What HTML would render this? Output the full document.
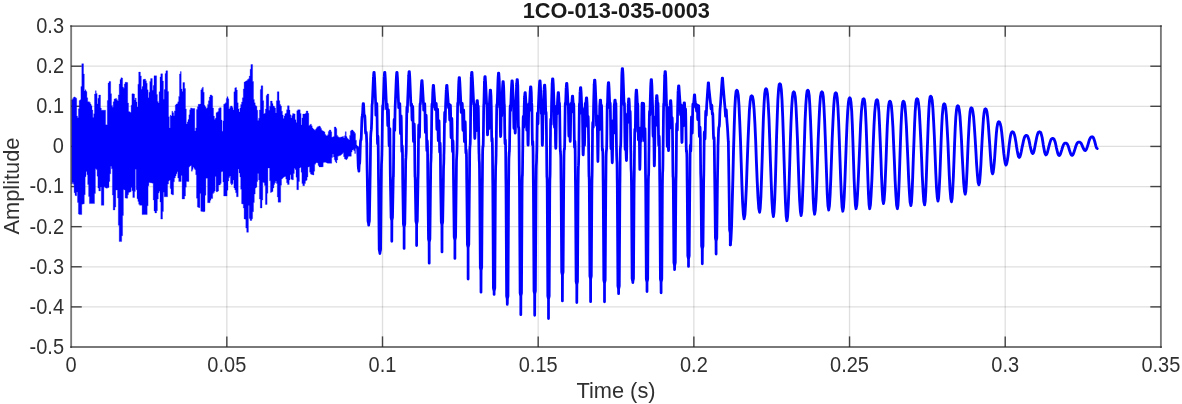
<!DOCTYPE html>
<html><head><meta charset="utf-8"><title>1CO-013-035-0003</title>
<style>
html,body{margin:0;padding:0;background:#fff;}
body{width:1182px;height:404px;overflow:hidden;font-family:"Liberation Sans",sans-serif;}
svg{display:block;will-change:transform;}
text{font-family:"Liberation Sans",sans-serif;fill:#303030;}
.tk{font-size:20px;}
.lb{font-size:21.8px;}
.tt{font-size:21.75px;font-weight:bold;fill:#1a1a1a;}
</style></head><body>
<svg width="1182" height="404" viewBox="0 0 1182 404">
<rect x="0" y="0" width="1182" height="404" fill="#ffffff"/>
<g stroke="#262626" stroke-opacity="0.15" stroke-width="1.3" fill="none">
<line x1="226.83" y1="26.1" x2="226.83" y2="347.0"/>
<line x1="382.51" y1="26.1" x2="382.51" y2="347.0"/>
<line x1="538.19" y1="26.1" x2="538.19" y2="347.0"/>
<line x1="693.86" y1="26.1" x2="693.86" y2="347.0"/>
<line x1="849.54" y1="26.1" x2="849.54" y2="347.0"/>
<line x1="1005.22" y1="26.1" x2="1005.22" y2="347.0"/>
<line x1="71.15" y1="306.89" x2="1160.9" y2="306.89"/>
<line x1="71.15" y1="266.78" x2="1160.9" y2="266.78"/>
<line x1="71.15" y1="226.66" x2="1160.9" y2="226.66"/>
<line x1="71.15" y1="186.55" x2="1160.9" y2="186.55"/>
<line x1="71.15" y1="146.44" x2="1160.9" y2="146.44"/>
<line x1="71.15" y1="106.32" x2="1160.9" y2="106.32"/>
<line x1="71.15" y1="66.21" x2="1160.9" y2="66.21"/>
</g>
<g stroke="#444444" stroke-width="1.4" fill="none">
<line x1="226.83" y1="347.0" x2="226.83" y2="336.4"/>
<line x1="226.83" y1="26.1" x2="226.83" y2="36.7"/>
<line x1="382.51" y1="347.0" x2="382.51" y2="336.4"/>
<line x1="382.51" y1="26.1" x2="382.51" y2="36.7"/>
<line x1="538.19" y1="347.0" x2="538.19" y2="336.4"/>
<line x1="538.19" y1="26.1" x2="538.19" y2="36.7"/>
<line x1="693.86" y1="347.0" x2="693.86" y2="336.4"/>
<line x1="693.86" y1="26.1" x2="693.86" y2="36.7"/>
<line x1="849.54" y1="347.0" x2="849.54" y2="336.4"/>
<line x1="849.54" y1="26.1" x2="849.54" y2="36.7"/>
<line x1="1005.22" y1="347.0" x2="1005.22" y2="336.4"/>
<line x1="1005.22" y1="26.1" x2="1005.22" y2="36.7"/>
<line x1="71.15" y1="306.89" x2="81.75" y2="306.89"/>
<line x1="1160.9" y1="306.89" x2="1150.3000000000002" y2="306.89"/>
<line x1="71.15" y1="266.78" x2="81.75" y2="266.78"/>
<line x1="1160.9" y1="266.78" x2="1150.3000000000002" y2="266.78"/>
<line x1="71.15" y1="226.66" x2="81.75" y2="226.66"/>
<line x1="1160.9" y1="226.66" x2="1150.3000000000002" y2="226.66"/>
<line x1="71.15" y1="186.55" x2="81.75" y2="186.55"/>
<line x1="1160.9" y1="186.55" x2="1150.3000000000002" y2="186.55"/>
<line x1="71.15" y1="146.44" x2="81.75" y2="146.44"/>
<line x1="1160.9" y1="146.44" x2="1150.3000000000002" y2="146.44"/>
<line x1="71.15" y1="106.32" x2="81.75" y2="106.32"/>
<line x1="1160.9" y1="106.32" x2="1150.3000000000002" y2="106.32"/>
<line x1="71.15" y1="66.21" x2="81.75" y2="66.21"/>
<line x1="1160.9" y1="66.21" x2="1150.3000000000002" y2="66.21"/>
</g>
<g fill="none" stroke="#0000ff" stroke-width="2.85" stroke-linejoin="round" stroke-linecap="round">
<path d="M71.6,100.0 L72.4,100.0 L72.4,98.8 L73.3,98.8 L73.3,97.5 L74.1,97.5 L74.1,96.9 L75.0,96.9 L75.0,97.5 L75.8,97.5 L75.8,98.2 L76.7,98.2 L76.7,116.1 L77.5,116.1 L77.5,117.8 L78.4,117.8 L78.4,108.8 L79.2,108.8 L79.2,100.6 L80.1,100.6 L80.1,99.7 L80.9,99.7 L80.9,86.6 L81.8,86.6 L81.8,63.7 L82.6,63.7 L82.6,63.7 L83.5,63.7 L83.5,74.0 L84.3,74.0 L84.3,91.1 L85.2,91.1 L85.2,89.8 L86.0,89.8 L86.0,91.5 L86.9,91.5 L86.9,97.8 L87.7,97.8 L87.7,101.7 L88.6,101.7 L88.6,101.7 L89.4,101.7 L89.4,102.4 L90.3,102.4 L90.3,104.1 L91.1,104.1 L91.1,105.8 L92.0,105.8 L92.0,110.0 L92.8,110.0 L92.8,117.6 L93.7,117.6 L93.7,113.7 L94.5,113.7 L94.5,94.1 L95.4,94.1 L95.4,90.7 L96.2,90.7 L96.2,93.4 L97.1,93.4 L97.1,104.0 L97.9,104.0 L97.9,98.2 L98.8,98.2 L98.8,95.0 L99.6,95.0 L99.6,95.0 L100.5,95.0 L100.5,108.1 L101.3,108.1 L101.3,110.2 L102.2,110.2 L102.2,110.2 L103.0,110.2 L103.0,110.2 L103.9,110.2 L103.9,110.2 L104.7,110.2 L104.7,110.2 L105.6,110.2 L105.6,124.7 L106.4,124.7 L106.4,125.0 L107.3,125.0 L107.3,100.6 L108.1,100.6 L108.1,83.1 L109.0,83.1 L109.0,81.4 L109.8,81.4 L109.8,81.4 L110.7,81.4 L110.7,93.7 L111.5,93.7 L111.5,105.4 L112.4,105.4 L112.4,107.3 L113.2,107.3 L113.2,101.8 L114.1,101.8 L114.1,99.0 L114.9,99.0 L114.9,98.7 L115.8,98.7 L115.8,98.4 L116.6,98.4 L116.6,99.7 L117.5,99.7 L117.5,101.1 L118.3,101.1 L118.3,94.9 L119.2,94.9 L119.2,84.1 L120.0,84.1 L120.0,79.5 L120.9,79.5 L120.9,77.7 L121.7,77.7 L121.7,78.0 L122.6,78.0 L122.6,87.0 L123.4,87.0 L123.4,88.2 L124.3,88.2 L124.3,84.0 L125.1,84.0 L125.1,82.3 L126.0,82.3 L126.0,82.3 L126.8,82.3 L126.8,82.5 L127.7,82.5 L127.7,103.1 L128.5,103.1 L128.5,111.4 L129.4,111.4 L129.4,112.0 L130.2,112.0 L130.2,112.5 L131.1,112.5 L131.1,105.2 L131.9,105.2 L131.9,93.8 L132.8,93.8 L132.8,93.8 L133.6,93.8 L133.6,94.1 L134.5,94.1 L134.5,99.9 L135.3,99.9 L135.3,98.1 L136.2,98.1 L136.2,102.0 L137.0,102.0 L137.0,107.0 L137.9,107.0 L137.9,84.2 L138.7,84.2 L138.7,72.1 L139.6,72.1 L139.6,72.1 L140.4,72.1 L140.4,75.9 L141.3,75.9 L141.3,89.2 L142.1,89.2 L142.1,86.6 L143.0,86.6 L143.0,79.6 L143.8,79.6 L143.8,79.3 L144.7,79.3 L144.7,79.0 L145.5,79.0 L145.5,80.7 L146.4,80.7 L146.4,83.2 L147.2,83.2 L147.2,89.8 L148.1,89.8 L148.1,97.8 L148.9,97.8 L148.9,92.2 L149.8,92.2 L149.8,81.4 L150.6,81.4 L150.6,78.6 L151.5,78.6 L151.5,78.6 L152.3,78.6 L152.3,90.2 L153.2,90.2 L153.2,85.5 L154.0,85.5 L154.0,75.8 L154.9,75.8 L154.9,75.8 L155.7,75.8 L155.7,75.8 L156.6,75.8 L156.6,94.6 L157.4,94.6 L157.4,101.4 L158.3,101.4 L158.3,103.1 L159.1,103.1 L159.1,91.8 L160.0,91.8 L160.0,76.9 L160.8,76.9 L160.8,73.8 L161.7,73.8 L161.7,73.8 L162.5,73.8 L162.5,81.1 L163.4,81.1 L163.4,99.2 L164.2,99.2 L164.2,89.6 L165.1,89.6 L165.1,73.6 L165.9,73.6 L165.9,70.8 L166.8,70.8 L166.8,70.8 L167.6,70.8 L167.6,91.6 L168.5,91.6 L168.5,116.7 L169.3,116.7 L169.3,128.0 L170.2,128.0 L170.2,115.3 L171.0,115.3 L171.0,116.1 L171.9,116.1 L171.9,111.2 L172.7,111.2 L172.7,112.7 L173.6,112.7 L173.6,115.7 L174.4,115.7 L174.4,110.9 L175.3,110.9 L175.3,105.0 L176.1,105.0 L176.1,104.0 L177.0,104.0 L177.0,103.7 L177.8,103.7 L177.8,101.8 L178.7,101.8 L178.7,96.4 L179.5,96.4 L179.5,74.0 L180.4,74.0 L180.4,71.6 L181.2,71.6 L181.2,88.9 L182.1,88.9 L182.1,91.5 L182.9,91.5 L182.9,82.6 L183.8,82.6 L183.8,82.6 L184.6,82.6 L184.6,88.6 L185.5,88.6 L185.5,108.9 L186.3,108.9 L186.3,124.1 L187.2,124.1 L187.2,121.9 L188.0,121.9 L188.0,119.6 L188.9,119.6 L188.9,114.8 L189.7,114.8 L189.7,109.8 L190.6,109.8 L190.6,107.9 L191.4,107.9 L191.4,108.3 L192.3,108.3 L192.3,108.5 L193.1,108.5 L193.1,108.5 L194.0,108.5 L194.0,108.5 L194.8,108.5 L194.8,131.0 L195.7,131.0 L195.7,127.9 L196.5,127.9 L196.5,109.4 L197.4,109.4 L197.4,106.8 L198.2,106.8 L198.2,104.3 L199.1,104.3 L199.1,104.3 L199.9,104.3 L199.9,104.1 L200.8,104.1 L200.8,89.9 L201.6,89.9 L201.6,88.6 L202.5,88.6 L202.5,87.2 L203.3,87.2 L203.3,92.2 L204.2,92.2 L204.2,105.2 L205.0,105.2 L205.0,106.8 L205.9,106.8 L205.9,108.4 L206.7,108.4 L206.7,107.8 L207.6,107.8 L207.6,104.4 L208.4,104.4 L208.4,100.8 L209.3,100.8 L209.3,97.0 L210.1,97.0 L210.1,95.0 L211.0,95.0 L211.0,95.0 L211.8,95.0 L211.8,95.9 L212.7,95.9 L212.7,108.1 L213.5,108.1 L213.5,116.1 L214.4,116.1 L214.4,119.5 L215.2,119.5 L215.2,118.2 L216.1,118.2 L216.1,112.7 L216.9,112.7 L216.9,112.3 L217.8,112.3 L217.8,111.5 L218.6,111.5 L218.6,108.5 L219.5,108.5 L219.5,107.7 L220.3,107.7 L220.3,107.7 L221.2,107.7 L221.2,120.0 L222.0,120.0 L222.0,131.3 L222.9,131.3 L222.9,120.9 L223.7,120.9 L223.7,104.2 L224.6,104.2 L224.6,103.8 L225.4,103.8 L225.4,102.8 L226.3,102.8 L226.3,98.5 L227.1,98.5 L227.1,96.7 L228.0,96.7 L228.0,98.8 L228.8,98.8 L228.8,109.1 L229.7,109.1 L229.7,107.4 L230.5,107.4 L230.5,106.0 L231.4,106.0 L231.4,106.0 L232.2,106.0 L232.2,107.4 L233.1,107.4 L233.1,110.0 L233.9,110.0 L233.9,91.8 L234.8,91.8 L234.8,87.9 L235.6,87.9 L235.6,87.6 L236.5,87.6 L236.5,90.1 L237.3,90.1 L237.3,102.8 L238.2,102.8 L238.2,109.0 L239.0,109.0 L239.0,111.9 L239.9,111.9 L239.9,108.0 L240.7,108.0 L240.7,104.5 L241.6,104.5 L241.6,102.0 L242.4,102.0 L242.4,97.8 L243.3,97.8 L243.3,88.9 L244.1,88.9 L244.1,82.1 L245.0,82.1 L245.0,81.6 L245.8,81.6 L245.8,81.0 L246.7,81.0 L246.7,80.4 L247.5,80.4 L247.5,79.5 L248.4,79.5 L248.4,78.7 L249.2,78.7 L249.2,76.1 L250.1,76.1 L250.1,69.3 L250.9,69.3 L250.9,64.5 L251.8,64.5 L251.8,64.5 L252.6,64.5 L252.6,81.5 L253.5,81.5 L253.5,99.4 L254.3,99.4 L254.3,102.8 L255.2,102.8 L255.2,105.4 L256.0,105.4 L256.0,106.2 L256.9,106.2 L256.9,110.2 L257.7,110.2 L257.7,120.5 L258.6,120.5 L258.6,118.2 L259.4,118.2 L259.4,110.0 L260.3,110.0 L260.3,89.6 L261.1,89.6 L261.1,85.8 L262.0,85.8 L262.0,85.8 L262.8,85.8 L262.8,100.7 L263.7,100.7 L263.7,113.9 L264.5,113.9 L264.5,113.3 L265.4,113.3 L265.4,109.1 L266.2,109.1 L266.2,95.5 L267.1,95.5 L267.1,94.0 L267.9,94.0 L267.9,94.0 L268.8,94.0 L268.8,110.3 L269.6,110.3 L269.6,106.2 L270.5,106.2 L270.5,101.1 L271.3,101.1 L271.3,101.1 L272.2,101.1 L272.2,103.4 L273.0,103.4 L273.0,105.9 L273.9,105.9 L273.9,106.5 L274.7,106.5 L274.7,108.0 L275.6,108.0 L275.6,113.1 L276.4,113.1 L276.4,100.8 L277.3,100.8 L277.3,91.7 L278.1,91.7 L278.1,91.7 L279.0,91.7 L279.0,100.7 L279.8,100.7 L279.8,104.6 L280.7,104.6 L280.7,106.1 L281.5,106.1 L281.5,111.2 L282.4,111.2 L282.4,115.0 L283.2,115.0 L283.2,118.6 L284.1,118.6 L284.1,116.0 L284.9,116.0 L284.9,113.8 L285.8,113.8 L285.8,113.2 L286.6,113.2 L286.6,109.7 L287.5,109.7 L287.5,105.8 L288.3,105.8 L288.3,105.8 L289.2,105.8 L289.2,110.1 L290.0,110.1 L290.0,114.7 L290.9,114.7 L290.9,118.1 L291.7,118.1 L291.7,115.6 L292.6,115.6 L292.6,113.6 L293.4,113.6 L293.4,113.8 L294.3,113.8 L294.3,114.0 L295.1,114.0 L295.1,119.8 L296.0,119.8 L296.0,122.4 L296.8,122.4 L296.8,110.8 L297.7,110.8 L297.7,109.8 L298.5,109.8 L298.5,109.8 L299.4,109.8 L299.4,109.8 L300.2,109.8 L300.2,113.4 L301.1,113.4 L301.1,124.9 L301.9,124.9 L301.9,117.9 L302.8,117.9 L302.8,114.0 L303.7,114.0 L303.7,114.0 L304.5,114.0 L304.5,114.0 L305.4,114.0 L305.4,113.2 L306.2,113.2 L306.2,111.0 L307.1,111.0 L307.1,111.0 L307.9,111.0 L307.9,113.3 L308.8,113.3 L308.8,125.7 L309.6,125.7 L309.6,124.9 L310.5,124.9 L310.5,124.0 L311.3,124.0 L311.3,125.8 L312.2,125.8 L312.2,128.0 L313.0,128.0 L313.0,128.9 L313.9,128.9 L313.9,129.8 L314.7,129.8 L314.7,130.3 L315.6,130.3 L315.6,129.0 L316.4,129.0 L316.4,127.8 L317.3,127.8 L317.3,126.8 L318.1,126.8 L318.1,126.4 L319.0,126.4 L319.0,126.0 L319.8,126.0 L319.8,126.8 L320.7,126.8 L320.7,128.5 L321.5,128.5 L321.5,130.2 L322.4,130.2 L322.4,130.9 L323.2,130.9 L323.2,131.3 L324.1,131.3 L324.1,131.9 L324.9,131.9 L324.9,134.4 L325.8,134.4 L325.8,135.6 L326.6,135.6 L326.6,136.1 L327.5,136.1 L327.5,134.8 L328.3,134.8 L328.3,131.5 L329.2,131.5 L329.2,130.0 L330.0,130.0 L330.0,130.0 L330.9,130.0 L330.9,131.8 L331.7,131.8 L331.7,137.2 L332.6,137.2 L332.6,137.0 L333.4,137.0 L333.4,136.4 L334.3,136.4 L334.3,127.0 L335.1,127.0 L335.1,127.0 L336.0,127.0 L336.0,128.6 L336.8,128.6 L336.8,135.4 L337.7,135.4 L337.7,136.7 L338.5,136.7 L338.5,137.2 L339.4,137.2 L339.4,137.5 L340.2,137.5 L340.2,137.2 L341.1,137.2 L341.1,137.0 L341.9,137.0 L341.9,136.7 L342.8,136.7 L342.8,136.4 L343.6,136.4 L343.6,138.0 L344.5,138.0 L344.5,135.7 L345.3,135.7 L345.3,131.7 L346.2,131.7 L346.2,136.5 L347.0,136.5 L347.0,138.2 L347.9,138.2 L347.9,139.1 L348.7,139.1 L348.7,139.9 L349.6,139.9 L349.6,135.4 L350.4,135.4 L350.4,130.9 L351.3,130.9 L351.3,130.0 L352.1,130.0 L352.1,130.0 L353.0,130.0 L353.0,130.9 L353.8,130.9 L353.8,131.9 L354.7,131.9 L354.7,133.4 L355.5,133.4 L355.5,140.2 L356.4,140.2 L356.4,144.9 L357.0,144.9 L357.0,146.9 L356.4,146.9 L356.4,148.4 L355.5,148.4 L355.5,153.5 L354.7,153.5 L354.7,150.8 L353.8,150.8 L353.8,149.5 L353.0,149.5 L353.0,150.0 L352.1,150.0 L352.1,152.1 L351.3,152.1 L351.3,156.3 L350.4,156.3 L350.4,156.3 L349.6,156.3 L349.6,156.3 L348.7,156.3 L348.7,156.6 L347.9,156.6 L347.9,158.4 L347.0,158.4 L347.0,159.7 L346.2,159.7 L346.2,159.3 L345.3,159.3 L345.3,158.9 L344.5,158.9 L344.5,156.7 L343.6,156.7 L343.6,152.8 L342.8,152.8 L342.8,153.7 L341.9,153.7 L341.9,154.5 L341.1,154.5 L341.1,155.2 L340.2,155.2 L340.2,155.5 L339.4,155.5 L339.4,155.8 L338.5,155.8 L338.5,156.2 L337.7,156.2 L337.7,159.9 L336.8,159.9 L336.8,162.9 L336.0,162.9 L336.0,161.7 L335.1,161.7 L335.1,159.8 L334.3,159.8 L334.3,156.9 L333.4,156.9 L333.4,153.9 L332.6,153.9 L332.6,157.4 L331.7,157.4 L331.7,163.3 L330.9,163.3 L330.9,163.3 L330.0,163.3 L330.0,163.3 L329.2,163.3 L329.2,163.3 L328.3,163.3 L328.3,163.3 L327.5,163.3 L327.5,162.9 L326.6,162.9 L326.6,162.4 L325.8,162.4 L325.8,162.2 L324.9,162.2 L324.9,162.2 L324.1,162.2 L324.1,162.6 L323.2,162.6 L323.2,166.8 L322.4,166.8 L322.4,166.9 L321.5,166.9 L321.5,166.9 L320.7,166.9 L320.7,166.9 L319.8,166.9 L319.8,166.9 L319.0,166.9 L319.0,165.5 L318.1,165.5 L318.1,163.1 L317.3,163.1 L317.3,162.4 L316.4,162.4 L316.4,162.9 L315.6,162.9 L315.6,164.2 L314.7,164.2 L314.7,171.3 L313.9,171.3 L313.9,175.0 L313.0,175.0 L313.0,174.7 L312.2,174.7 L312.2,174.4 L311.3,174.4 L311.3,174.1 L310.5,174.1 L310.5,172.2 L309.6,172.2 L309.6,166.7 L308.8,166.7 L308.8,167.1 L307.9,167.1 L307.9,177.0 L307.1,177.0 L307.1,180.2 L306.2,180.2 L306.2,180.8 L305.4,180.8 L305.4,183.6 L304.5,183.6 L304.5,185.7 L303.7,185.7 L303.7,185.7 L302.8,185.7 L302.8,183.6 L301.9,183.6 L301.9,172.3 L301.1,172.3 L301.1,167.2 L300.2,167.2 L300.2,167.9 L299.4,167.9 L299.4,181.5 L298.5,181.5 L298.5,189.7 L297.7,189.7 L297.7,189.7 L296.8,189.7 L296.8,177.2 L296.0,177.2 L296.0,169.5 L295.1,169.5 L295.1,168.3 L294.3,168.3 L294.3,173.5 L293.4,173.5 L293.4,179.8 L292.6,179.8 L292.6,179.8 L291.7,179.8 L291.7,179.1 L290.9,179.1 L290.9,174.8 L290.0,174.8 L290.0,179.9 L289.2,179.9 L289.2,184.5 L288.3,184.5 L288.3,184.5 L287.5,184.5 L287.5,182.8 L286.6,182.8 L286.6,179.1 L285.8,179.1 L285.8,176.4 L284.9,176.4 L284.9,176.8 L284.1,176.8 L284.1,177.2 L283.2,177.2 L283.2,178.0 L282.4,178.0 L282.4,179.0 L281.5,179.0 L281.5,185.2 L280.7,185.2 L280.7,202.2 L279.8,202.2 L279.8,202.2 L279.0,202.2 L279.0,202.2 L278.1,202.2 L278.1,196.9 L277.3,196.9 L277.3,183.4 L276.4,183.4 L276.4,181.0 L275.6,181.0 L275.6,182.7 L274.7,182.7 L274.7,184.4 L273.9,184.4 L273.9,188.0 L273.0,188.0 L273.0,191.6 L272.2,191.6 L272.2,192.0 L271.3,192.0 L271.3,192.5 L270.5,192.5 L270.5,180.8 L269.6,180.8 L269.6,168.0 L268.8,168.0 L268.8,168.0 L267.9,168.0 L267.9,193.3 L267.1,193.3 L267.1,204.5 L266.2,204.5 L266.2,204.5 L265.4,204.5 L265.4,185.4 L264.5,185.4 L264.5,182.8 L263.7,182.8 L263.7,182.2 L262.8,182.2 L262.8,200.0 L262.0,200.0 L262.0,208.0 L261.1,208.0 L261.1,208.0 L260.3,208.0 L260.3,199.0 L259.4,199.0 L259.4,179.9 L258.6,179.9 L258.6,173.5 L257.7,173.5 L257.7,181.6 L256.9,181.6 L256.9,187.2 L256.0,187.2 L256.0,188.1 L255.2,188.1 L255.2,194.1 L254.3,194.1 L254.3,202.6 L253.5,202.6 L253.5,211.7 L252.6,211.7 L252.6,218.7 L251.8,218.7 L251.8,220.5 L250.9,220.5 L250.9,220.5 L250.1,220.5 L250.1,218.4 L249.2,218.4 L249.2,205.5 L248.4,205.5 L248.4,232.3 L247.5,232.3 L247.5,232.3 L246.7,232.3 L246.7,228.1 L245.8,228.1 L245.8,219.3 L245.0,219.3 L245.0,218.9 L244.1,218.9 L244.1,208.0 L243.3,208.0 L243.3,204.1 L242.4,204.1 L242.4,203.8 L241.6,203.8 L241.6,189.3 L240.7,189.3 L240.7,176.9 L239.9,176.9 L239.9,172.9 L239.0,172.9 L239.0,168.9 L238.2,168.9 L238.2,196.8 L237.3,196.8 L237.3,196.8 L236.5,196.8 L236.5,192.8 L235.6,192.8 L235.6,190.0 L234.8,190.0 L234.8,187.9 L233.9,187.9 L233.9,180.0 L233.1,180.0 L233.1,183.7 L232.2,183.7 L232.2,185.0 L231.4,185.0 L231.4,183.4 L230.5,183.4 L230.5,176.1 L229.7,176.1 L229.7,177.6 L228.8,177.6 L228.8,181.0 L228.0,181.0 L228.0,190.2 L227.1,190.2 L227.1,196.0 L226.3,196.0 L226.3,196.0 L225.4,196.0 L225.4,196.0 L224.6,196.0 L224.6,196.0 L223.7,196.0 L223.7,182.1 L222.9,182.1 L222.9,171.5 L222.0,171.5 L222.0,171.8 L221.2,171.8 L221.2,183.5 L220.3,183.5 L220.3,185.0 L219.5,185.0 L219.5,185.0 L218.6,185.0 L218.6,191.0 L217.8,191.0 L217.8,191.7 L216.9,191.7 L216.9,191.7 L216.1,191.7 L216.1,176.5 L215.2,176.5 L215.2,190.9 L214.4,190.9 L214.4,192.6 L213.5,192.6 L213.5,193.4 L212.7,193.4 L212.7,198.5 L211.8,198.5 L211.8,198.5 L211.0,198.5 L211.0,200.2 L210.1,200.2 L210.1,202.7 L209.3,202.7 L209.3,202.7 L208.4,202.7 L208.4,202.7 L207.6,202.7 L207.6,178.2 L206.7,178.2 L206.7,178.2 L205.9,178.2 L205.9,195.2 L205.0,195.2 L205.0,211.4 L204.2,211.4 L204.2,211.8 L203.3,211.8 L203.3,211.6 L202.5,211.6 L202.5,211.4 L201.6,211.4 L201.6,211.2 L200.8,211.2 L200.8,193.6 L199.9,193.6 L199.9,207.7 L199.1,207.7 L199.1,207.4 L198.2,207.4 L198.2,207.1 L197.4,207.1 L197.4,198.2 L196.5,198.2 L196.5,174.7 L195.7,174.7 L195.7,169.7 L194.8,169.7 L194.8,168.4 L194.0,168.4 L194.0,167.2 L193.1,167.2 L193.1,169.4 L192.3,169.4 L192.3,171.2 L191.4,171.2 L191.4,165.5 L190.6,165.5 L190.6,165.9 L189.7,165.9 L189.7,167.1 L188.9,167.1 L188.9,181.6 L188.0,181.6 L188.0,181.6 L187.2,181.6 L187.2,181.6 L186.3,181.6 L186.3,187.2 L185.5,187.2 L185.5,196.0 L184.6,196.0 L184.6,199.0 L183.8,199.0 L183.8,199.0 L182.9,199.0 L182.9,199.0 L182.1,199.0 L182.1,175.4 L181.2,175.4 L181.2,181.6 L180.4,181.6 L180.4,181.6 L179.5,181.6 L179.5,181.6 L178.7,181.6 L178.7,177.9 L177.8,177.9 L177.8,171.7 L177.0,171.7 L177.0,173.8 L176.1,173.8 L176.1,175.9 L175.3,175.9 L175.3,178.0 L174.4,178.0 L174.4,181.8 L173.6,181.8 L173.6,194.8 L172.7,194.8 L172.7,194.8 L171.9,194.8 L171.9,194.1 L171.0,194.1 L171.0,188.5 L170.2,188.5 L170.2,180.0 L169.3,180.0 L169.3,180.9 L168.5,180.9 L168.5,184.1 L167.6,184.1 L167.6,196.8 L166.8,196.8 L166.8,196.8 L165.9,196.8 L165.9,196.8 L165.1,196.8 L165.1,196.8 L164.2,196.8 L164.2,192.3 L163.4,192.3 L163.4,211.6 L162.5,211.6 L162.5,219.1 L161.7,219.1 L161.7,219.1 L160.8,219.1 L160.8,202.0 L160.0,202.0 L160.0,191.2 L159.1,191.2 L159.1,193.0 L158.3,193.0 L158.3,199.1 L157.4,199.1 L157.4,210.7 L156.6,210.7 L156.6,212.9 L155.7,212.9 L155.7,212.9 L154.9,212.9 L154.9,211.0 L154.0,211.0 L154.0,199.9 L153.2,199.9 L153.2,183.2 L152.3,183.2 L152.3,183.0 L151.5,183.0 L151.5,182.8 L150.6,182.8 L150.6,182.7 L149.8,182.7 L149.8,182.5 L148.9,182.5 L148.9,185.8 L148.1,185.8 L148.1,205.8 L147.2,205.8 L147.2,214.6 L146.4,214.6 L146.4,214.6 L145.5,214.6 L145.5,214.6 L144.7,214.6 L144.7,214.6 L143.8,214.6 L143.8,214.6 L143.0,214.6 L143.0,214.6 L142.1,214.6 L142.1,205.3 L141.3,205.3 L141.3,205.3 L140.4,205.3 L140.4,205.3 L139.6,205.3 L139.6,204.3 L138.7,204.3 L138.7,201.5 L137.9,201.5 L137.9,198.7 L137.0,198.7 L137.0,189.8 L136.2,189.8 L136.2,169.2 L135.3,169.2 L135.3,191.4 L134.5,191.4 L134.5,197.6 L133.6,197.6 L133.6,197.6 L132.8,197.6 L132.8,190.7 L131.9,190.7 L131.9,187.4 L131.1,187.4 L131.1,191.8 L130.2,191.8 L130.2,192.1 L129.4,192.1 L129.4,192.4 L128.5,192.4 L128.5,194.7 L127.7,194.7 L127.7,198.2 L126.8,198.2 L126.8,198.2 L126.0,198.2 L126.0,198.1 L125.1,198.1 L125.1,189.9 L124.3,189.9 L124.3,189.4 L123.4,189.4 L123.4,215.5 L122.6,215.5 L122.6,235.7 L121.7,235.7 L121.7,241.6 L120.9,241.6 L120.9,241.6 L120.0,241.6 L120.0,241.6 L119.2,241.6 L119.2,225.3 L118.3,225.3 L118.3,198.0 L117.5,198.0 L117.5,190.0 L116.6,190.0 L116.6,190.0 L115.8,190.0 L115.8,207.1 L114.9,207.1 L114.9,210.0 L114.1,210.0 L114.1,210.0 L113.2,210.0 L113.2,195.0 L112.4,195.0 L112.4,168.8 L111.5,168.8 L111.5,166.3 L110.7,166.3 L110.7,173.8 L109.8,173.8 L109.8,181.4 L109.0,181.4 L109.0,187.5 L108.1,187.5 L108.1,187.8 L107.3,187.8 L107.3,188.2 L106.4,188.2 L106.4,188.0 L105.6,188.0 L105.6,187.4 L104.7,187.4 L104.7,186.7 L103.9,186.7 L103.9,205.3 L103.0,205.3 L103.0,205.3 L102.2,205.3 L102.2,205.3 L101.3,205.3 L101.3,187.1 L100.5,187.1 L100.5,190.9 L99.6,190.9 L99.6,190.9 L98.8,190.9 L98.8,188.1 L97.9,188.1 L97.9,176.2 L97.1,176.2 L97.1,169.6 L96.2,169.6 L96.2,168.8 L95.4,168.8 L95.4,193.4 L94.5,193.4 L94.5,203.6 L93.7,203.6 L93.7,203.6 L92.8,203.6 L92.8,203.6 L92.0,203.6 L92.0,203.6 L91.1,203.6 L91.1,203.6 L90.3,203.6 L90.3,203.6 L89.4,203.6 L89.4,196.4 L88.6,196.4 L88.6,184.5 L87.7,184.5 L87.7,174.7 L86.9,174.7 L86.9,171.4 L86.0,171.4 L86.0,176.7 L85.2,176.7 L85.2,194.7 L84.3,194.7 L84.3,203.7 L83.5,203.7 L83.5,204.0 L82.6,204.0 L82.6,204.3 L81.8,204.3 L81.8,214.6 L80.9,214.6 L80.9,214.6 L80.1,214.6 L80.1,214.6 L79.2,214.6 L79.2,213.9 L78.4,213.9 L78.4,202.4 L77.5,202.4 L77.5,192.1 L76.7,192.1 L76.7,195.8 L75.8,195.8 L75.8,195.4 L75.0,195.4 L75.0,192.7 L74.1,192.7 L74.1,184.2 L73.3,184.2 L73.3,182.5 L72.4,182.5 L72.4,184.0 L71.6,184.0Z" fill="#0000ff" stroke="#0000ff" stroke-width="0.3" stroke-linejoin="round"/>
<path d="M357.3,147.4 L357.4,147.3 L357.5,147.6 L357.6,148.5 L357.7,150.1 L357.8,152.5 L357.9,155.4 L358.0,158.7 L358.1,161.8 L358.2,164.7 L358.3,166.9 L358.4,168.2 L358.5,168.7 L358.6,169.0 L358.7,169.3 L358.8,169.9 L358.9,171.1 L359.0,168.7 L359.1,166.5 L359.2,164.9 L359.3,164.0 L359.4,163.7 L359.5,163.8 L359.6,163.5 L359.7,162.8 L359.8,161.3 L359.9,159.1 L360.0,156.3 L360.1,153.0 L360.2,149.7 L360.3,146.5 L360.4,143.9 L360.5,142.0 L360.6,140.7 L360.7,140.2 L360.8,140.0 L360.9,140.1 L361.0,139.9 L361.1,139.4 L361.2,138.2 L361.3,136.2 L361.4,133.6 L361.5,130.5 L361.6,127.2 L361.7,123.9 L361.8,121.1 L361.9,118.8 L362.0,117.3 L362.1,116.5 L362.2,116.2 L362.3,116.2 L362.4,116.0 L362.5,115.0 L362.6,113.4 L362.7,111.2 L362.8,110.0 L362.8,109.1 L362.9,107.2 L363.0,105.6 L363.1,104.2 L363.1,103.7 L363.2,103.7 L363.3,103.7 L363.4,103.7 L363.5,103.7 L363.6,104.9 L363.7,106.5 L363.8,108.5 L363.9,110.8 L364.0,112.8 L364.1,114.5 L364.2,115.8 L364.3,116.4 L364.4,116.5 L364.5,116.0 L364.6,115.6 L364.7,115.5 L364.8,116.0 L364.9,117.2 L365.0,119.1 L365.1,121.6 L365.2,124.3 L365.3,127.1 L365.4,129.6 L365.5,131.5 L365.6,132.8 L365.7,133.4 L365.8,133.4 L365.9,133.0 L366.0,132.5 L366.1,132.1 L366.2,132.2 L366.3,133.0 L366.4,134.4 L366.5,136.5 L366.6,139.1 L366.7,141.9 L366.8,143.3 L366.8,147.4 L366.9,155.4 L367.0,162.8 L367.1,169.0 L367.2,173.7 L367.3,179.2 L367.4,186.0 L367.5,191.8 L367.6,197.7 L367.7,203.5 L367.8,209.3 L367.9,215.2 L368.0,221.0 L368.1,221.5 L368.2,221.9 L368.3,222.4 L368.4,222.8 L368.5,223.3 L368.6,223.8 L368.6,224.0 L368.7,225.2 L368.8,224.0 L368.8,223.8 L368.9,223.3 L369.0,222.8 L369.1,222.4 L369.2,221.9 L369.3,221.5 L369.4,221.0 L369.5,215.2 L369.6,209.3 L369.7,203.5 L369.8,197.7 L369.9,191.8 L370.0,186.0 L370.1,179.2 L370.2,173.5 L370.3,166.8 L370.4,158.5 L370.5,150.2 L370.6,142.2 L370.6,138.4 L370.7,137.0 L370.8,134.7 L370.9,133.1 L371.0,132.0 L371.1,131.3 L371.2,130.6 L371.3,129.7 L371.4,128.3 L371.5,126.3 L371.6,123.6 L371.7,120.3 L371.8,116.5 L371.9,112.7 L372.0,106.9 L372.1,104.5 L372.2,103.8 L372.3,103.9 L372.4,101.6 L372.5,99.3 L372.6,97.0 L372.7,94.7 L372.8,92.4 L372.9,90.0 L373.0,87.7 L373.1,85.4 L373.2,83.1 L373.3,80.8 L373.4,78.5 L373.4,77.3 L373.5,76.7 L373.6,75.5 L373.7,74.2 L373.8,73.0 L373.9,72.3 L373.9,72.3 L374.0,72.3 L374.1,72.3 L374.2,72.3 L374.3,73.9 L374.4,75.3 L374.5,76.8 L374.6,78.3 L374.7,80.7 L374.8,83.1 L374.9,85.5 L375.0,87.9 L375.1,90.3 L375.2,92.7 L375.3,95.1 L375.4,97.5 L375.5,99.9 L375.6,102.3 L375.7,105.0 L375.8,109.6 L375.9,115.2 L376.0,104.5 L376.1,104.5 L376.2,104.4 L376.3,104.3 L376.4,104.2 L376.4,104.8 L376.5,104.9 L376.6,104.2 L376.7,103.6 L376.8,103.5 L376.8,103.8 L376.9,106.2 L377.0,111.9 L377.1,119.9 L377.2,127.8 L377.3,134.8 L377.4,140.0 L377.5,143.0 L377.6,143.7 L377.7,142.5 L377.8,140.1 L377.9,137.3 L377.9,136.0 L378.0,137.1 L378.1,140.5 L378.2,145.9 L378.3,155.1 L378.4,168.9 L378.5,179.2 L378.6,186.0 L378.7,196.6 L378.8,207.2 L378.9,217.8 L379.0,228.4 L379.1,239.0 L379.2,249.6 L379.3,250.1 L379.4,250.5 L379.5,251.0 L379.6,251.4 L379.7,251.9 L379.8,252.4 L379.9,252.6 L379.9,253.6 L379.9,252.6 L380.0,252.4 L380.1,251.9 L380.2,251.4 L380.3,251.0 L380.4,250.5 L380.5,250.1 L380.6,249.6 L380.7,239.0 L380.8,228.4 L380.9,217.8 L381.0,207.2 L381.1,196.6 L381.2,186.0 L381.3,179.2 L381.4,169.7 L381.5,164.0 L381.6,162.5 L381.7,160.6 L381.8,157.2 L381.9,154.7 L381.9,153.6 L382.0,149.7 L382.1,143.6 L382.2,135.9 L382.3,127.6 L382.4,119.6 L382.5,112.8 L382.6,108.1 L382.7,105.6 L382.8,106.0 L382.9,108.6 L383.0,109.7 L383.1,108.2 L383.2,104.1 L383.3,101.2 L383.4,98.4 L383.5,95.6 L383.6,92.8 L383.7,90.0 L383.8,87.2 L383.9,84.4 L384.0,81.6 L384.1,78.8 L384.1,77.3 L384.2,76.7 L384.3,75.5 L384.4,74.2 L384.5,73.0 L384.6,72.3 L384.6,72.3 L384.7,72.3 L384.8,72.3 L384.9,72.3 L385.0,73.9 L385.1,75.4 L385.2,76.8 L385.3,78.3 L385.4,80.7 L385.5,83.1 L385.6,85.5 L385.7,87.9 L385.8,90.3 L385.9,92.7 L386.0,95.1 L386.1,97.5 L386.2,99.9 L386.3,102.3 L386.4,105.3 L386.5,108.9 L386.6,105.7 L386.7,104.2 L386.8,104.1 L386.9,104.0 L387.0,104.0 L387.1,104.0 L387.1,104.0 L387.2,104.9 L387.3,107.2 L387.4,110.9 L387.4,113.3 L387.5,115.6 L387.6,120.3 L387.7,123.9 L387.8,125.6 L387.9,124.7 L388.0,121.0 L388.1,116.6 L388.2,112.7 L388.3,110.2 L388.4,109.9 L388.5,112.0 L388.6,116.4 L388.7,122.5 L388.8,129.5 L388.9,136.2 L389.0,141.6 L389.1,144.9 L389.2,145.8 L389.3,144.3 L389.4,141.0 L389.5,136.7 L389.6,132.6 L389.7,129.6 L389.8,128.6 L389.9,129.0 L389.9,132.8 L390.0,142.1 L390.1,153.4 L390.2,165.7 L390.3,174.7 L390.4,179.2 L390.5,186.0 L390.6,191.3 L390.7,196.5 L390.8,201.8 L390.9,207.0 L391.0,212.2 L391.1,217.5 L391.2,218.0 L391.3,218.4 L391.4,218.9 L391.5,219.3 L391.6,219.8 L391.7,220.3 L391.8,220.5 L391.8,241.3 L391.9,220.5 L391.9,220.3 L392.0,219.8 L392.1,219.3 L392.2,218.9 L392.3,218.4 L392.4,218.0 L392.5,217.5 L392.6,212.2 L392.7,207.0 L392.8,201.8 L392.9,196.5 L393.0,191.3 L393.1,186.0 L393.2,179.2 L393.3,177.2 L393.4,177.1 L393.5,170.2 L393.6,159.6 L393.7,147.5 L393.8,141.2 L393.8,137.1 L393.9,129.6 L394.0,123.8 L394.1,120.3 L394.2,119.4 L394.3,120.7 L394.4,123.5 L394.5,126.7 L394.6,129.3 L394.7,130.3 L394.8,128.8 L394.9,122.5 L395.0,115.5 L395.1,109.4 L395.2,105.4 L395.3,103.5 L395.4,101.0 L395.5,98.5 L395.6,96.0 L395.7,93.5 L395.8,91.0 L395.9,88.5 L396.0,86.1 L396.1,83.6 L396.2,81.1 L396.3,78.6 L396.4,77.3 L396.4,76.7 L396.5,75.5 L396.6,74.2 L396.7,73.0 L396.8,72.3 L396.8,72.3 L396.9,72.3 L397.0,72.3 L397.1,72.4 L397.2,73.9 L397.3,75.4 L397.4,76.8 L397.5,78.3 L397.6,80.7 L397.7,83.1 L397.8,85.5 L397.9,87.9 L398.0,90.3 L398.1,92.7 L398.2,95.1 L398.3,97.5 L398.4,99.9 L398.5,102.3 L398.6,104.5 L398.7,107.6 L398.8,106.4 L398.9,104.5 L399.0,104.5 L399.1,104.5 L399.2,104.4 L399.2,104.4 L399.3,105.4 L399.4,106.2 L399.5,105.7 L399.6,104.5 L399.6,103.9 L399.7,103.5 L399.8,103.8 L399.9,106.1 L400.0,110.6 L400.1,117.0 L400.2,123.8 L400.3,129.2 L400.4,132.6 L400.5,133.5 L400.6,132.0 L400.7,128.6 L400.8,124.3 L400.9,120.0 L401.0,117.0 L401.1,115.9 L401.2,117.3 L401.3,121.2 L401.4,126.9 L401.5,133.8 L401.6,140.6 L401.7,146.3 L401.8,150.2 L401.9,151.6 L402.0,150.5 L402.1,147.5 L402.1,145.5 L402.2,146.0 L402.3,147.2 L402.4,149.3 L402.5,154.8 L402.6,167.4 L402.7,179.2 L402.8,186.0 L402.9,192.3 L403.0,198.7 L403.1,205.0 L403.2,211.3 L403.3,217.7 L403.4,224.0 L403.5,224.5 L403.6,224.9 L403.7,225.4 L403.8,225.8 L403.9,226.3 L404.0,226.8 L404.1,227.0 L404.1,248.4 L404.1,227.0 L404.2,226.8 L404.3,226.3 L404.4,225.8 L404.5,225.4 L404.6,224.9 L404.7,224.5 L404.8,224.0 L404.9,217.7 L405.0,211.3 L405.1,205.0 L405.2,198.7 L405.3,192.3 L405.4,186.0 L405.5,179.2 L405.6,168.6 L405.7,161.1 L405.8,159.2 L405.9,157.9 L406.0,155.5 L406.1,153.6 L406.1,153.4 L406.2,151.0 L406.3,146.2 L406.4,139.5 L406.5,131.6 L406.6,123.6 L406.7,116.4 L406.8,110.9 L406.9,107.6 L407.0,106.8 L407.1,108.3 L407.2,111.2 L407.3,112.2 L407.4,110.7 L407.5,106.8 L407.6,102.9 L407.7,100.4 L407.8,97.9 L407.9,95.4 L408.0,92.8 L408.1,90.3 L408.2,87.8 L408.3,85.3 L408.4,82.8 L408.5,80.2 L408.6,77.7 L408.6,76.5 L408.7,75.8 L408.8,74.6 L408.9,73.3 L409.0,72.1 L409.1,71.5 L409.1,71.5 L409.2,71.5 L409.3,71.5 L409.4,71.5 L409.5,73.0 L409.6,74.5 L409.7,75.9 L409.8,77.5 L409.9,79.9 L410.0,82.4 L410.1,84.8 L410.2,87.3 L410.3,89.8 L410.4,92.2 L410.5,94.7 L410.6,97.2 L410.7,99.6 L410.8,102.1 L410.9,104.6 L411.0,105.7 L411.1,104.3 L411.2,104.0 L411.3,104.0 L411.4,104.0 L411.5,104.1 L411.6,104.1 L411.6,104.8 L411.7,107.2 L411.8,110.7 L411.9,114.8 L411.9,116.8 L412.0,118.2 L412.1,120.1 L412.2,120.0 L412.3,118.1 L412.4,114.4 L412.5,110.3 L412.6,107.4 L412.7,106.4 L412.8,107.5 L412.9,111.0 L413.0,116.2 L413.1,122.6 L413.2,129.2 L413.3,135.1 L413.4,139.3 L413.5,141.5 L413.6,141.3 L413.7,139.1 L413.8,135.4 L413.9,131.2 L414.0,127.3 L414.1,124.6 L414.2,123.9 L414.3,125.4 L414.4,129.1 L414.5,134.5 L414.6,141.0 L414.6,144.3 L414.7,150.3 L414.8,161.6 L414.9,171.2 L415.0,177.1 L415.1,177.0 L415.2,179.2 L415.3,186.0 L415.4,191.8 L415.5,197.7 L415.6,203.5 L415.7,209.3 L415.8,215.2 L415.9,221.0 L416.0,221.5 L416.1,221.9 L416.2,222.4 L416.3,222.8 L416.4,223.3 L416.5,223.8 L416.6,224.0 L416.6,245.5 L416.6,224.0 L416.7,223.8 L416.8,223.3 L416.9,222.8 L417.0,222.4 L417.1,221.9 L417.2,221.5 L417.3,221.0 L417.4,215.2 L417.5,209.3 L417.6,203.5 L417.7,197.7 L417.8,191.8 L417.9,186.0 L418.0,179.2 L418.1,176.8 L418.2,172.0 L418.3,161.1 L418.4,148.9 L418.5,137.3 L418.6,132.0 L418.6,129.4 L418.7,126.0 L418.8,124.8 L418.9,125.7 L419.0,128.3 L419.1,131.6 L419.2,134.8 L419.3,137.0 L419.4,137.4 L419.5,135.6 L419.6,131.6 L419.7,125.7 L419.8,118.6 L419.9,111.5 L420.0,106.6 L420.1,104.2 L420.2,103.6 L420.3,104.0 L420.4,104.2 L420.5,102.6 L420.6,100.6 L420.7,98.6 L420.8,96.6 L420.9,94.5 L421.0,92.5 L421.1,90.5 L421.2,88.5 L421.3,86.5 L421.4,85.4 L421.4,84.8 L421.5,83.6 L421.6,82.3 L421.7,81.1 L421.8,80.5 L421.8,80.5 L421.9,80.5 L422.0,80.5 L422.1,80.5 L422.2,82.0 L422.3,83.5 L422.4,84.9 L422.5,86.5 L422.6,88.2 L422.7,90.0 L422.8,91.8 L422.9,93.5 L423.0,95.3 L423.1,97.1 L423.2,98.9 L423.3,100.6 L423.4,102.4 L423.5,104.1 L423.6,106.4 L423.7,110.1 L423.8,106.9 L423.9,104.5 L424.0,104.5 L424.1,104.4 L424.2,104.4 L424.2,104.3 L424.3,105.0 L424.4,105.3 L424.5,104.6 L424.6,103.7 L424.6,103.5 L424.7,103.5 L424.8,104.9 L424.9,108.1 L425.0,113.2 L425.1,119.6 L425.2,125.7 L425.3,130.1 L425.4,132.4 L425.5,132.4 L425.6,130.2 L425.7,126.5 L425.8,122.2 L425.9,118.3 L426.0,115.7 L426.1,115.1 L426.2,116.8 L426.3,120.7 L426.4,126.4 L426.5,133.0 L426.6,139.7 L426.7,145.3 L426.8,149.0 L426.9,150.6 L427.0,149.7 L427.1,146.9 L427.2,142.9 L427.2,140.7 L427.3,141.4 L427.4,143.4 L427.5,146.9 L427.6,154.3 L427.7,167.9 L427.8,179.2 L427.9,186.0 L428.0,194.8 L428.1,203.7 L428.2,212.5 L428.3,221.3 L428.4,230.2 L428.5,239.0 L428.6,239.5 L428.7,239.9 L428.8,240.4 L428.9,240.8 L429.0,241.3 L429.1,241.8 L429.1,242.0 L429.2,263.2 L429.2,242.0 L429.3,241.8 L429.4,241.3 L429.5,240.8 L429.6,240.4 L429.7,239.9 L429.8,239.5 L429.9,239.0 L430.0,230.2 L430.1,221.3 L430.2,212.5 L430.3,203.7 L430.4,194.8 L430.5,186.0 L430.6,179.2 L430.7,169.3 L430.8,163.3 L430.9,161.8 L431.0,160.1 L431.1,157.0 L431.1,154.6 L431.2,153.5 L431.3,149.4 L431.4,143.1 L431.5,135.1 L431.6,126.5 L431.7,118.1 L431.8,111.2 L431.9,106.3 L432.0,103.9 L432.1,106.0 L432.2,107.7 L432.3,107.3 L432.4,104.0 L432.5,101.0 L432.6,97.9 L432.7,94.9 L432.8,91.9 L432.9,90.3 L432.9,89.7 L433.0,88.5 L433.1,87.2 L433.2,86.0 L433.2,85.3 L433.3,85.3 L433.4,85.3 L433.5,85.3 L433.6,85.4 L433.7,86.9 L433.8,88.4 L433.9,89.8 L434.0,91.3 L434.1,92.7 L434.2,94.1 L434.3,95.5 L434.4,96.9 L434.5,98.3 L434.6,99.7 L434.7,101.1 L434.8,102.5 L434.9,103.9 L435.0,104.5 L435.1,106.3 L435.2,109.5 L435.3,106.6 L435.4,104.5 L435.5,104.5 L435.6,104.5 L435.7,104.4 L435.8,104.4 L435.8,105.2 L435.9,105.8 L436.0,105.1 L436.1,104.0 L436.1,103.6 L436.2,103.5 L436.3,104.3 L436.4,106.9 L436.5,111.2 L436.6,116.6 L436.7,122.2 L436.8,126.9 L436.9,129.4 L437.0,128.8 L437.1,126.0 L437.2,121.6 L437.3,116.7 L437.4,112.4 L437.5,109.6 L437.6,109.1 L437.7,111.1 L437.8,115.4 L437.9,121.4 L438.0,127.9 L438.1,134.0 L438.2,138.5 L438.3,140.7 L438.4,140.5 L438.5,137.9 L438.6,133.6 L438.7,128.7 L438.8,124.2 L438.9,121.2 L439.0,120.5 L439.1,122.3 L439.2,126.4 L439.3,132.3 L439.4,138.8 L439.5,145.0 L439.6,149.6 L439.7,152.1 L439.8,152.1 L439.9,149.6 L440.0,145.5 L440.1,143.0 L440.1,143.5 L440.2,144.9 L440.3,147.7 L440.4,154.3 L440.5,167.6 L440.6,179.2 L440.7,186.0 L440.8,192.0 L440.9,198.0 L441.0,204.0 L441.1,210.0 L441.2,216.0 L441.3,222.0 L441.4,222.5 L441.5,222.9 L441.6,223.4 L441.7,223.8 L441.8,224.3 L441.9,224.8 L441.9,225.0 L442.0,251.9 L442.1,225.0 L442.1,224.8 L442.2,224.3 L442.3,223.8 L442.4,223.4 L442.5,222.9 L442.6,222.5 L442.7,222.0 L442.8,216.0 L442.9,210.0 L443.0,204.0 L443.1,198.0 L443.2,192.0 L443.3,186.0 L443.4,179.2 L443.5,170.4 L443.6,166.0 L443.7,164.8 L443.8,162.5 L443.9,158.1 L443.9,155.0 L444.0,153.5 L444.1,148.7 L444.2,142.0 L444.3,134.2 L444.4,126.4 L444.5,119.6 L444.6,114.8 L444.7,112.4 L444.8,112.5 L444.9,114.6 L445.0,117.9 L445.1,121.2 L445.2,122.0 L445.3,119.7 L445.4,115.3 L445.5,110.1 L445.6,105.5 L445.7,102.7 L445.8,100.5 L445.9,98.2 L446.0,96.0 L446.1,93.7 L446.2,91.5 L446.2,90.3 L446.3,89.7 L446.4,88.5 L446.5,87.2 L446.6,86.0 L446.6,85.4 L446.7,85.3 L446.8,85.3 L446.9,85.3 L447.0,85.3 L447.1,86.9 L447.2,88.3 L447.3,89.8 L447.4,91.3 L447.5,92.7 L447.6,94.1 L447.7,95.5 L447.8,96.9 L447.9,98.3 L448.0,99.7 L448.1,101.1 L448.2,102.5 L448.3,103.9 L448.4,106.3 L448.5,107.7 L448.6,107.7 L448.7,106.5 L448.8,104.0 L448.9,104.0 L449.0,104.0 L449.1,104.0 L449.1,104.1 L449.2,104.6 L449.3,106.5 L449.4,109.9 L449.5,114.1 L449.6,116.3 L449.6,117.8 L449.7,119.8 L449.8,120.2 L449.9,118.6 L450.0,115.4 L450.1,111.1 L450.2,107.1 L450.3,105.0 L450.4,105.2 L450.5,107.8 L450.6,112.5 L450.7,118.6 L450.8,125.1 L450.9,131.1 L451.0,135.5 L451.1,137.7 L451.2,137.6 L451.3,135.2 L451.4,131.3 L451.5,126.7 L451.6,122.4 L451.7,119.4 L451.8,118.4 L451.9,119.8 L452.0,123.4 L452.1,128.8 L452.2,135.2 L452.3,141.5 L452.4,146.9 L452.5,150.3 L452.6,151.6 L452.7,150.4 L452.8,147.3 L452.9,143.0 L452.9,140.7 L453.0,141.4 L453.1,143.3 L453.2,146.9 L453.3,154.3 L453.4,167.9 L453.5,179.2 L453.6,186.0 L453.7,194.5 L453.8,203.0 L453.9,211.5 L454.0,220.0 L454.1,228.5 L454.2,237.0 L454.3,237.5 L454.4,237.9 L454.5,238.4 L454.6,238.8 L454.7,239.3 L454.8,239.8 L454.9,240.0 L454.9,258.4 L454.9,240.0 L455.0,239.8 L455.1,239.3 L455.2,238.8 L455.3,238.4 L455.4,237.9 L455.5,237.5 L455.6,237.0 L455.7,228.5 L455.8,220.0 L455.9,211.5 L456.0,203.0 L456.1,194.5 L456.2,186.0 L456.3,179.2 L456.4,168.5 L456.5,160.6 L456.6,158.4 L456.7,157.0 L456.8,154.8 L456.9,153.1 L456.9,152.7 L457.0,150.3 L457.1,145.5 L457.2,138.8 L457.3,130.7 L457.4,122.1 L457.5,114.0 L457.6,107.2 L457.7,103.1 L457.8,103.8 L457.9,105.0 L458.0,105.1 L458.1,102.8 L458.2,99.7 L458.3,96.6 L458.4,93.4 L458.5,90.3 L458.6,87.2 L458.7,84.0 L458.8,82.5 L458.8,81.8 L458.9,80.6 L459.0,79.3 L459.1,78.1 L459.1,77.5 L459.2,77.5 L459.3,77.5 L459.4,77.5 L459.5,77.5 L459.6,79.0 L459.7,80.4 L459.8,81.9 L459.9,83.4 L460.0,85.5 L460.1,87.5 L460.2,89.5 L460.3,91.5 L460.4,93.5 L460.5,95.5 L460.6,97.5 L460.7,99.5 L460.8,101.5 L460.9,103.5 L461.0,105.0 L461.1,107.8 L461.2,112.4 L461.3,104.5 L461.4,104.5 L461.5,104.5 L461.6,104.5 L461.6,104.4 L461.7,105.5 L461.8,106.8 L461.9,106.7 L462.0,105.5 L462.1,104.8 L462.1,104.1 L462.2,103.4 L462.3,104.1 L462.4,106.5 L462.5,110.6 L462.6,115.8 L462.7,121.5 L462.8,126.7 L462.9,129.6 L463.0,130.3 L463.1,128.7 L463.2,125.4 L463.3,121.0 L463.4,116.4 L463.5,112.5 L463.6,110.2 L463.7,110.0 L463.8,112.1 L463.9,116.2 L464.0,121.8 L464.1,128.0 L464.2,133.9 L464.3,138.5 L464.4,141.3 L464.5,141.8 L464.6,140.1 L464.7,136.6 L464.8,132.2 L464.9,127.6 L465.0,123.8 L465.1,121.7 L465.2,121.7 L465.3,124.0 L465.4,128.2 L465.5,133.9 L465.6,140.2 L465.7,146.0 L465.8,150.4 L465.9,153.0 L466.0,153.2 L466.1,151.3 L466.1,149.7 L466.2,150.7 L466.3,152.1 L466.4,153.5 L466.5,157.1 L466.6,167.5 L466.7,179.2 L466.8,186.0 L466.9,195.7 L467.0,205.5 L467.1,215.2 L467.2,225.0 L467.3,234.7 L467.4,244.5 L467.5,245.0 L467.6,245.4 L467.7,245.9 L467.8,246.3 L467.9,246.8 L468.0,247.3 L468.1,247.5 L468.1,279.0 L468.1,247.5 L468.2,247.3 L468.3,246.8 L468.4,246.3 L468.5,245.9 L468.6,245.4 L468.7,245.0 L468.8,244.5 L468.9,234.8 L469.0,225.0 L469.1,215.2 L469.2,205.5 L469.3,195.8 L469.4,186.0 L469.5,179.2 L469.6,167.3 L469.7,154.9 L469.8,149.4 L469.9,147.2 L470.0,145.9 L470.1,145.2 L470.1,145.2 L470.2,144.1 L470.3,141.1 L470.4,135.9 L470.5,128.4 L470.6,117.0 L470.7,107.3 L470.8,101.6 L470.9,96.2 L471.0,90.8 L471.1,85.4 L471.2,80.0 L471.2,77.3 L471.3,76.7 L471.4,75.5 L471.5,74.2 L471.6,73.0 L471.6,72.4 L471.7,72.3 L471.8,72.3 L471.9,72.3 L472.0,72.3 L472.1,73.9 L472.2,75.3 L472.3,76.8 L472.4,78.3 L472.5,80.4 L472.6,82.4 L472.7,84.4 L472.8,86.4 L472.9,88.4 L473.0,90.4 L473.1,92.4 L473.2,94.4 L473.3,96.4 L473.4,98.4 L473.5,100.4 L473.6,102.4 L473.7,104.3 L473.8,104.7 L473.9,104.0 L474.0,103.5 L474.1,104.3 L474.2,107.5 L474.3,113.5 L474.4,121.1 L474.5,128.3 L474.6,133.9 L474.7,137.4 L474.8,138.5 L474.9,137.4 L475.0,134.5 L475.1,130.9 L475.2,127.6 L475.3,125.6 L475.4,121.3 L475.5,119.5 L475.6,120.0 L475.7,122.4 L475.8,125.7 L475.9,128.8 L476.0,130.8 L476.1,130.9 L476.2,128.4 L476.3,121.7 L476.4,114.8 L476.5,109.1 L476.6,105.5 L476.6,104.5 L476.7,104.2 L476.8,103.7 L476.9,102.4 L477.0,101.2 L477.1,100.5 L477.1,100.5 L477.2,100.5 L477.3,100.5 L477.4,100.5 L477.5,102.1 L477.6,103.6 L477.7,106.0 L477.8,108.0 L477.9,110.1 L478.0,109.5 L478.1,106.9 L478.2,105.8 L478.3,107.8 L478.4,112.2 L478.5,118.9 L478.6,127.0 L478.7,135.5 L478.8,143.4 L478.9,149.6 L479.0,153.6 L479.1,154.6 L479.1,157.0 L479.2,160.1 L479.3,161.7 L479.4,163.1 L479.5,169.3 L479.6,179.2 L479.7,186.0 L479.8,199.6 L479.9,213.2 L480.0,226.8 L480.1,240.3 L480.2,253.9 L480.3,267.5 L480.4,268.0 L480.5,268.4 L480.6,268.9 L480.7,269.3 L480.8,269.8 L480.9,270.3 L480.9,270.5 L481.0,292.2 L481.1,270.5 L481.1,270.3 L481.2,269.8 L481.3,269.3 L481.4,268.9 L481.5,268.4 L481.6,268.0 L481.7,267.5 L481.8,253.9 L481.9,240.3 L482.0,226.8 L482.1,213.2 L482.2,199.6 L482.3,186.0 L482.4,179.2 L482.5,167.4 L482.6,154.9 L482.7,149.7 L482.8,147.8 L482.9,146.7 L482.9,146.1 L483.0,146.7 L483.1,146.8 L483.2,144.8 L483.3,140.3 L483.4,133.3 L483.5,124.5 L483.6,114.8 L483.7,107.5 L483.8,104.4 L483.9,103.7 L484.0,99.7 L484.1,95.7 L484.2,91.6 L484.3,87.6 L484.4,83.6 L484.4,81.5 L484.5,80.9 L484.6,79.7 L484.7,78.4 L484.8,77.2 L484.9,76.5 L484.9,76.5 L485.0,76.5 L485.1,76.5 L485.2,76.5 L485.3,78.1 L485.4,79.5 L485.5,81.0 L485.6,82.5 L485.7,84.6 L485.8,86.7 L485.9,88.8 L486.0,90.9 L486.1,93.0 L486.2,95.0 L486.3,97.1 L486.4,99.2 L486.5,101.3 L486.6,103.4 L486.7,103.9 L486.8,103.8 L486.9,104.8 L487.0,107.9 L487.1,113.5 L487.2,121.1 L487.3,127.8 L487.4,132.6 L487.5,134.9 L487.6,134.7 L487.7,132.5 L487.8,129.1 L487.9,125.5 L488.0,122.9 L488.1,118.0 L488.2,115.6 L488.3,115.6 L488.4,117.8 L488.5,121.2 L488.6,124.8 L488.7,127.6 L488.8,128.6 L488.9,125.4 L489.0,119.9 L489.1,113.9 L489.2,108.8 L489.3,105.5 L489.4,104.0 L489.5,102.1 L489.6,100.1 L489.7,98.1 L489.8,96.1 L489.9,95.0 L489.9,94.4 L490.0,93.2 L490.1,91.9 L490.2,90.7 L490.2,90.0 L490.3,90.0 L490.4,90.0 L490.5,90.0 L490.6,90.1 L490.7,91.6 L490.8,93.1 L490.9,94.5 L491.0,96.0 L491.1,100.0 L491.2,104.0 L491.3,106.8 L491.4,113.3 L491.5,123.2 L491.6,131.1 L491.7,136.9 L491.8,140.3 L491.9,141.3 L492.0,140.6 L492.1,139.0 L492.1,138.2 L492.2,139.0 L492.3,141.6 L492.4,146.1 L492.5,154.6 L492.6,168.5 L492.7,179.2 L492.8,186.0 L492.9,203.0 L493.0,220.0 L493.1,237.0 L493.2,254.0 L493.3,271.0 L493.4,288.0 L493.5,288.5 L493.6,288.9 L493.7,289.4 L493.8,289.8 L493.9,290.3 L494.0,290.8 L494.1,291.0 L494.1,294.4 L494.1,291.0 L494.2,290.8 L494.3,290.3 L494.4,289.8 L494.5,289.4 L494.6,288.9 L494.7,288.5 L494.8,288.0 L494.9,271.0 L495.0,254.0 L495.1,237.0 L495.2,220.0 L495.3,203.0 L495.4,186.0 L495.5,179.2 L495.6,170.4 L495.7,166.0 L495.8,164.7 L495.9,162.2 L496.0,158.0 L496.1,155.0 L496.1,153.2 L496.2,147.9 L496.3,140.6 L496.4,132.1 L496.5,123.4 L496.6,115.5 L496.7,109.2 L496.8,105.1 L496.9,104.4 L497.0,106.6 L497.1,107.4 L497.2,105.6 L497.3,102.1 L497.4,98.9 L497.5,95.7 L497.6,92.5 L497.7,89.3 L497.8,86.1 L497.9,82.9 L498.0,79.7 L498.1,78.2 L498.1,77.5 L498.2,76.3 L498.3,75.0 L498.4,73.8 L498.4,73.2 L498.5,73.2 L498.6,73.2 L498.7,73.2 L498.8,73.2 L498.9,74.6 L499.0,76.1 L499.1,77.6 L499.2,79.1 L499.3,82.5 L499.4,85.8 L499.5,89.1 L499.6,92.4 L499.7,95.7 L499.8,99.0 L499.9,102.4 L500.0,104.9 L500.1,109.0 L500.2,116.0 L500.3,125.1 L500.4,131.4 L500.5,135.1 L500.6,136.6 L500.7,136.1 L500.8,134.4 L500.9,132.2 L501.0,124.4 L501.1,118.0 L501.2,113.6 L501.3,111.6 L501.4,111.6 L501.5,113.3 L501.6,115.6 L501.7,115.9 L501.8,113.0 L501.9,107.9 L502.0,102.9 L502.1,100.0 L502.2,97.0 L502.3,94.1 L502.4,91.1 L502.5,88.1 L502.6,86.7 L502.6,86.0 L502.7,84.8 L502.8,83.5 L502.9,82.3 L502.9,81.7 L503.0,81.7 L503.1,81.7 L503.2,81.7 L503.3,81.7 L503.4,83.1 L503.5,84.6 L503.6,86.1 L503.7,87.6 L503.8,90.9 L503.9,94.2 L504.0,97.5 L504.1,100.8 L504.2,104.0 L504.3,104.1 L504.4,106.1 L504.5,111.1 L504.6,119.3 L504.7,127.6 L504.8,134.8 L504.9,140.0 L505.0,143.0 L505.1,143.8 L505.2,142.9 L505.3,140.9 L505.4,139.9 L505.4,140.6 L505.5,142.9 L505.6,146.7 L505.7,154.3 L505.8,167.9 L505.9,179.2 L506.0,186.0 L506.1,204.3 L506.2,222.7 L506.3,241.0 L506.4,259.3 L506.5,277.7 L506.6,296.0 L506.7,296.5 L506.8,296.9 L506.9,297.4 L507.0,297.8 L507.1,298.3 L507.2,298.8 L507.2,299.0 L507.3,304.4 L507.4,299.0 L507.4,298.8 L507.5,298.3 L507.6,297.8 L507.7,297.4 L507.8,296.9 L507.9,296.5 L508.0,296.0 L508.1,277.7 L508.2,259.3 L508.3,241.0 L508.4,222.7 L508.5,204.3 L508.6,186.0 L508.7,179.2 L508.8,168.1 L508.9,159.2 L509.0,156.6 L509.1,155.3 L509.2,153.4 L509.2,152.0 L509.3,152.3 L509.4,151.3 L509.5,148.1 L509.6,142.7 L509.7,135.7 L509.8,127.8 L509.9,120.1 L510.0,113.5 L510.1,108.6 L510.2,106.0 L510.3,105.6 L510.4,108.3 L510.5,110.4 L510.6,110.6 L510.7,108.4 L510.8,104.2 L510.9,101.6 L511.0,99.2 L511.1,96.8 L511.2,94.3 L511.3,91.9 L511.4,89.4 L511.5,87.0 L511.6,85.8 L511.6,85.1 L511.7,83.9 L511.8,82.6 L511.9,81.4 L511.9,80.8 L512.0,80.8 L512.1,80.8 L512.2,80.8 L512.3,80.8 L512.4,82.2 L512.5,83.7 L512.6,85.2 L512.7,86.8 L512.8,89.1 L512.9,91.5 L513.0,93.9 L513.1,96.3 L513.2,98.7 L513.3,101.1 L513.4,103.5 L513.5,106.0 L513.6,110.4 L513.7,116.3 L513.8,122.5 L513.9,127.5 L514.0,128.3 L514.1,126.5 L514.2,123.6 L514.3,120.5 L514.4,118.2 L514.5,117.6 L514.6,119.1 L514.7,123.1 L514.8,124.1 L514.9,126.6 L515.0,129.6 L515.1,132.1 L515.2,133.1 L515.3,132.1 L515.4,128.8 L515.5,121.7 L515.6,114.2 L515.7,108.5 L515.8,105.1 L515.9,103.8 L516.0,101.3 L516.1,98.7 L516.2,96.2 L516.3,93.6 L516.4,91.0 L516.5,88.5 L516.6,85.9 L516.6,84.7 L516.7,84.0 L516.8,82.8 L516.9,81.5 L517.0,80.3 L517.0,79.7 L517.1,79.7 L517.2,79.7 L517.3,79.7 L517.4,79.7 L517.5,81.1 L517.6,82.6 L517.7,84.1 L517.8,85.6 L517.9,91.0 L518.0,96.4 L518.1,101.8 L518.2,110.5 L518.3,121.1 L518.4,126.9 L518.5,127.4 L518.6,127.2 L518.7,127.2 L518.8,128.5 L518.9,129.9 L518.9,132.5 L519.0,139.7 L519.1,149.1 L519.2,161.1 L519.3,172.6 L519.4,179.2 L519.5,186.0 L519.6,203.8 L519.7,221.7 L519.8,239.5 L519.9,257.3 L520.0,275.2 L520.1,293.0 L520.2,293.5 L520.3,293.9 L520.4,294.4 L520.5,294.8 L520.6,295.3 L520.7,295.8 L520.8,296.0 L520.8,314.7 L520.9,296.0 L520.9,295.8 L521.0,295.3 L521.1,294.8 L521.2,294.4 L521.3,293.9 L521.4,293.5 L521.5,293.0 L521.6,275.2 L521.7,257.3 L521.8,239.5 L521.9,221.7 L522.0,203.8 L522.1,186.0 L522.2,179.2 L522.3,175.6 L522.4,175.9 L522.5,171.9 L522.6,164.0 L522.7,153.8 L522.8,148.1 L522.8,144.2 L522.9,136.0 L523.0,128.3 L523.1,122.0 L523.2,117.9 L523.3,116.4 L523.4,117.2 L523.5,119.7 L523.6,122.9 L523.7,125.8 L523.8,127.3 L523.9,124.1 L524.0,118.5 L524.1,112.3 L524.2,107.1 L524.3,103.8 L524.4,101.3 L524.5,98.9 L524.5,97.7 L524.6,97.0 L524.7,95.8 L524.8,94.5 L524.9,93.3 L525.0,92.7 L525.0,92.7 L525.1,92.7 L525.2,92.7 L525.3,92.7 L525.4,94.1 L525.5,95.6 L525.6,97.1 L525.7,98.7 L525.8,100.4 L525.9,102.1 L526.0,103.8 L526.1,103.9 L526.2,104.6 L526.3,106.8 L526.4,111.0 L526.5,116.7 L526.6,122.9 L526.7,128.5 L526.8,130.2 L526.9,129.2 L527.0,126.4 L527.1,122.5 L527.2,118.6 L527.3,115.9 L527.4,115.2 L527.5,117.0 L527.6,121.2 L527.7,127.5 L527.8,134.8 L527.9,142.1 L528.0,144.6 L528.1,145.2 L528.2,143.2 L528.3,138.8 L528.4,132.4 L528.5,124.8 L528.6,117.2 L528.7,110.6 L528.8,106.0 L528.9,103.9 L529.0,105.4 L529.1,108.3 L529.2,110.4 L529.3,110.7 L529.4,108.8 L529.5,105.4 L529.6,102.7 L529.7,100.7 L529.8,98.7 L529.9,96.7 L530.0,94.7 L530.1,92.7 L530.1,91.8 L530.2,91.1 L530.3,89.9 L530.4,88.6 L530.5,87.4 L530.5,86.8 L530.6,86.8 L530.7,86.8 L530.8,86.8 L530.9,86.8 L531.0,88.2 L531.1,89.7 L531.2,91.2 L531.3,92.7 L531.4,96.1 L531.5,99.5 L531.6,102.9 L531.7,103.8 L531.8,104.4 L531.9,107.7 L532.0,114.7 L532.1,123.8 L532.2,132.2 L532.3,138.8 L532.4,143.1 L532.5,144.9 L532.6,144.5 L532.7,142.6 L532.8,141.4 L532.8,142.0 L532.9,143.7 L533.0,147.0 L533.1,154.3 L533.2,167.9 L533.3,179.2 L533.4,186.0 L533.5,203.5 L533.6,221.0 L533.7,238.5 L533.8,256.0 L533.9,273.5 L534.0,291.0 L534.1,291.5 L534.2,291.9 L534.3,292.4 L534.4,292.8 L534.5,293.3 L534.6,293.8 L534.6,294.0 L534.7,315.3 L534.8,294.0 L534.8,293.8 L534.9,293.3 L535.0,292.8 L535.1,292.4 L535.2,291.9 L535.3,291.5 L535.4,291.0 L535.5,273.5 L535.6,256.0 L535.7,238.5 L535.8,221.0 L535.9,203.5 L536.0,186.0 L536.1,179.2 L536.2,170.2 L536.3,165.4 L536.4,164.2 L536.5,161.9 L536.6,157.9 L536.6,155.0 L536.7,153.8 L536.8,149.7 L536.9,143.5 L537.0,136.1 L537.1,128.4 L537.2,121.5 L537.3,116.3 L537.4,113.4 L537.5,112.9 L537.6,114.6 L537.7,117.6 L537.8,121.1 L537.9,124.1 L538.0,123.5 L538.1,120.2 L538.2,115.4 L538.3,110.2 L538.4,106.0 L538.5,103.5 L538.6,101.4 L538.7,99.3 L538.8,97.2 L538.9,95.1 L539.0,93.0 L539.1,91.0 L539.2,88.9 L539.3,86.8 L539.4,85.8 L539.4,85.1 L539.5,83.9 L539.6,82.6 L539.7,81.4 L539.8,80.8 L539.8,80.8 L539.9,80.8 L540.0,80.8 L540.1,80.8 L540.2,82.3 L540.3,83.7 L540.4,85.2 L540.5,86.8 L540.6,89.8 L540.7,92.8 L540.8,95.9 L540.9,98.9 L541.0,101.9 L541.1,106.0 L541.2,111.1 L541.3,113.7 L541.4,113.2 L541.5,110.8 L541.6,109.7 L541.7,110.5 L541.8,113.6 L541.9,118.9 L542.0,126.2 L542.1,134.5 L542.2,143.0 L542.3,145.0 L542.4,145.4 L542.5,143.5 L542.6,139.4 L542.7,133.2 L542.8,125.5 L542.9,117.4 L543.0,109.8 L543.1,104.6 L543.2,103.3 L543.3,103.9 L543.4,104.7 L543.5,104.3 L543.6,101.8 L543.7,99.2 L543.8,96.6 L543.9,94.0 L544.0,91.4 L544.0,90.1 L544.1,89.4 L544.2,88.2 L544.3,86.9 L544.4,85.7 L544.5,85.0 L544.5,85.0 L544.6,85.0 L544.7,85.0 L544.8,85.0 L544.9,86.5 L545.0,88.0 L545.1,89.5 L545.2,91.0 L545.3,94.8 L545.4,98.6 L545.5,102.4 L545.6,108.0 L545.7,112.9 L545.8,114.3 L545.9,112.8 L546.0,112.0 L546.1,112.9 L546.2,115.8 L546.3,121.1 L546.4,128.3 L546.5,137.0 L546.5,141.6 L546.6,147.7 L546.7,159.5 L546.8,170.0 L546.9,177.0 L547.0,177.4 L547.1,179.2 L547.2,186.0 L547.3,204.3 L547.4,222.7 L547.5,241.0 L547.6,259.3 L547.7,277.7 L547.8,296.0 L547.9,296.5 L548.0,296.9 L548.1,297.4 L548.2,297.8 L548.3,298.3 L548.4,298.8 L548.5,299.0 L548.5,318.5 L548.5,299.0 L548.6,298.8 L548.7,298.3 L548.8,297.8 L548.9,297.4 L549.0,296.9 L549.1,296.5 L549.2,296.0 L549.3,277.7 L549.4,259.3 L549.5,241.0 L549.6,222.7 L549.7,204.3 L549.8,186.0 L549.9,179.2 L550.0,177.3 L550.1,173.9 L550.2,163.7 L550.3,151.6 L550.4,139.6 L550.5,133.9 L550.5,130.2 L550.6,124.3 L550.7,120.6 L550.8,119.1 L550.9,119.5 L551.0,121.1 L551.1,123.1 L551.2,124.5 L551.3,121.5 L551.4,115.3 L551.5,108.1 L551.6,102.6 L551.7,99.2 L551.8,95.7 L551.9,92.3 L552.0,88.9 L552.1,85.5 L552.1,83.8 L552.2,83.1 L552.3,81.9 L552.4,80.6 L552.5,79.4 L552.5,78.8 L552.6,78.8 L552.7,78.8 L552.8,78.8 L552.9,78.8 L553.0,80.2 L553.1,81.7 L553.2,83.2 L553.3,84.7 L553.4,87.3 L553.5,89.9 L553.6,92.5 L553.7,95.1 L553.8,97.7 L553.9,100.3 L554.0,102.9 L554.1,106.0 L554.2,111.2 L554.3,117.4 L554.4,123.3 L554.5,127.3 L554.6,126.6 L554.7,124.4 L554.8,121.5 L554.9,119.0 L555.0,117.8 L555.1,118.5 L555.2,121.6 L555.3,126.8 L555.4,133.8 L555.5,141.7 L555.6,145.1 L555.7,147.6 L555.8,148.3 L555.9,146.9 L556.0,143.1 L556.1,137.3 L556.2,130.3 L556.3,122.9 L556.4,116.0 L556.5,110.6 L556.6,107.2 L556.7,106.2 L556.8,107.3 L556.9,110.7 L557.0,113.2 L557.1,113.9 L557.2,112.4 L557.3,109.1 L557.4,105.1 L557.5,102.6 L557.6,100.6 L557.7,98.6 L557.8,97.7 L557.8,97.0 L557.9,95.8 L558.0,94.5 L558.1,93.3 L558.1,92.7 L558.2,92.7 L558.3,92.7 L558.4,92.7 L558.5,92.7 L558.6,94.2 L558.7,95.7 L558.8,97.1 L558.9,98.7 L559.0,101.4 L559.1,104.3 L559.2,106.7 L559.3,106.7 L559.4,105.0 L559.5,103.2 L559.6,105.6 L559.7,110.9 L559.8,118.1 L559.9,126.3 L560.0,134.5 L560.1,141.9 L560.2,147.4 L560.3,150.7 L560.4,151.6 L560.5,151.2 L560.5,152.4 L560.6,154.0 L560.7,155.2 L560.8,158.1 L560.9,167.7 L561.0,179.2 L561.1,186.0 L561.2,200.3 L561.3,214.7 L561.4,229.0 L561.5,243.3 L561.6,257.7 L561.7,272.0 L561.8,272.5 L561.9,272.9 L562.0,273.4 L562.1,273.8 L562.2,274.3 L562.3,274.8 L562.4,275.0 L562.4,300.9 L562.5,275.0 L562.5,274.8 L562.6,274.3 L562.7,273.8 L562.8,273.4 L562.9,272.9 L563.0,272.5 L563.1,272.0 L563.2,257.7 L563.3,243.3 L563.4,229.0 L563.5,214.7 L563.6,200.3 L563.7,186.0 L563.8,179.2 L563.9,167.3 L564.0,155.9 L564.1,151.8 L564.2,150.3 L564.3,149.2 L564.4,148.4 L564.4,149.2 L564.5,149.5 L564.6,147.5 L564.7,143.1 L564.8,136.4 L564.9,128.3 L565.0,119.6 L565.1,111.5 L565.2,105.0 L565.3,103.2 L565.4,104.1 L565.5,105.1 L565.6,104.5 L565.7,101.8 L565.8,98.8 L565.9,95.8 L566.0,92.8 L566.1,89.8 L566.1,88.4 L566.2,87.7 L566.3,86.5 L566.4,85.2 L566.5,84.0 L566.5,83.4 L566.6,83.3 L566.7,83.3 L566.8,83.3 L566.9,83.3 L567.0,84.8 L567.1,86.3 L567.2,87.8 L567.3,89.3 L567.4,91.5 L567.5,93.6 L567.6,95.7 L567.7,97.9 L567.8,100.0 L567.9,102.1 L568.0,104.0 L568.1,103.8 L568.2,103.8 L568.3,105.2 L568.4,108.9 L568.5,115.3 L568.6,123.0 L568.7,129.5 L568.8,134.1 L568.9,136.1 L569.0,135.7 L569.1,133.3 L569.2,129.8 L569.3,126.4 L569.4,124.0 L569.5,123.6 L569.6,125.7 L569.7,126.5 L569.8,129.4 L569.9,133.4 L570.0,137.4 L570.1,140.4 L570.2,141.4 L570.3,140.0 L570.4,136.1 L570.5,130.2 L570.6,123.0 L570.7,115.8 L570.8,109.6 L570.9,105.2 L571.0,103.3 L571.1,105.2 L571.2,108.3 L571.3,110.9 L571.4,112.2 L571.5,111.6 L571.6,109.3 L571.7,106.1 L571.8,103.4 L571.9,101.8 L572.0,101.0 L572.0,100.4 L572.1,99.2 L572.2,97.9 L572.3,96.7 L572.4,96.0 L572.4,96.0 L572.5,96.0 L572.6,96.0 L572.7,96.0 L572.8,97.5 L572.9,99.0 L573.0,100.5 L573.1,102.0 L573.2,104.6 L573.3,108.1 L573.4,109.5 L573.5,108.7 L573.6,106.3 L573.7,103.8 L573.8,105.1 L573.9,109.2 L574.0,115.4 L574.1,123.1 L574.2,131.1 L574.3,138.3 L574.4,143.8 L574.5,147.0 L574.6,147.6 L574.7,146.0 L574.8,143.0 L574.9,141.2 L574.9,141.8 L575.0,143.5 L575.1,147.0 L575.2,154.3 L575.3,167.9 L575.4,179.2 L575.5,186.0 L575.6,201.9 L575.7,217.8 L575.8,233.8 L575.9,249.7 L576.0,265.6 L576.1,281.5 L576.2,282.0 L576.3,282.4 L576.4,282.9 L576.5,283.3 L576.6,283.8 L576.7,284.3 L576.8,284.5 L576.8,302.5 L576.9,284.5 L576.9,284.3 L577.0,283.8 L577.1,283.3 L577.2,282.9 L577.3,282.4 L577.4,282.0 L577.5,281.5 L577.6,265.6 L577.7,249.7 L577.8,233.8 L577.9,217.8 L578.0,201.9 L578.1,186.0 L578.2,179.2 L578.3,170.6 L578.4,166.6 L578.5,165.4 L578.6,162.8 L578.7,158.2 L578.8,155.0 L578.8,152.6 L578.9,146.1 L579.0,137.8 L579.1,128.4 L579.2,119.1 L579.3,110.9 L579.4,104.6 L579.5,103.4 L579.6,104.8 L579.7,104.9 L579.8,102.1 L579.9,98.3 L580.0,94.5 L580.0,92.6 L580.1,91.9 L580.2,90.7 L580.3,89.4 L580.4,88.2 L580.5,87.5 L580.5,87.5 L580.6,87.5 L580.7,87.5 L580.8,87.5 L580.9,89.0 L581.0,90.5 L581.1,92.0 L581.2,93.5 L581.3,96.1 L581.4,98.6 L581.5,101.2 L581.6,103.7 L581.7,108.5 L581.8,112.3 L581.9,113.7 L582.0,112.4 L582.1,109.4 L582.2,108.0 L582.3,108.6 L582.4,111.6 L582.5,117.0 L582.6,124.1 L582.7,132.1 L582.8,140.1 L582.9,146.9 L583.0,151.9 L583.1,154.6 L583.2,154.9 L583.3,153.3 L583.4,150.5 L583.5,147.5 L583.6,140.8 L583.7,135.8 L583.8,133.0 L583.9,132.6 L584.0,134.3 L584.1,137.4 L584.2,140.9 L584.3,143.9 L584.4,145.4 L584.5,144.9 L584.6,142.0 L584.7,136.8 L584.8,130.1 L584.9,122.6 L585.0,115.3 L585.1,109.2 L585.2,105.0 L585.3,103.4 L585.4,105.5 L585.5,108.0 L585.6,109.5 L585.7,109.3 L585.8,107.2 L585.9,103.8 L586.0,102.8 L586.0,102.1 L586.1,100.9 L586.2,99.6 L586.3,98.4 L586.4,97.8 L586.4,97.8 L586.5,97.8 L586.6,97.8 L586.7,97.8 L586.8,99.2 L586.9,100.7 L587.0,102.2 L587.1,103.8 L587.2,107.4 L587.3,112.8 L587.4,118.7 L587.5,123.8 L587.6,126.5 L587.7,124.9 L587.8,122.1 L587.9,119.1 L588.0,116.9 L588.1,116.3 L588.2,117.9 L588.3,121.8 L588.4,127.7 L588.5,135.1 L588.6,143.0 L588.6,146.9 L588.7,152.7 L588.8,163.2 L588.9,171.8 L589.0,176.6 L589.1,176.3 L589.2,179.2 L589.3,186.0 L589.4,201.0 L589.5,216.0 L589.6,231.0 L589.7,246.0 L589.8,261.0 L589.9,276.0 L590.0,276.5 L590.1,276.9 L590.2,277.4 L590.3,277.8 L590.4,278.3 L590.5,278.8 L590.5,279.0 L590.6,301.7 L590.6,279.0 L590.7,278.8 L590.8,278.3 L590.9,277.8 L591.0,277.4 L591.1,276.9 L591.2,276.5 L591.3,276.0 L591.4,261.0 L591.5,246.0 L591.6,231.0 L591.7,216.0 L591.8,201.0 L591.9,186.0 L592.0,179.2 L592.1,176.0 L592.2,169.5 L592.3,157.9 L592.4,145.9 L592.5,135.0 L592.5,130.2 L592.6,127.6 L592.7,123.9 L592.8,122.4 L592.9,122.8 L593.0,124.4 L593.1,126.2 L593.2,127.4 L593.3,126.4 L593.4,120.0 L593.5,112.2 L593.6,105.0 L593.7,101.0 L593.8,97.4 L593.9,93.9 L594.0,90.3 L594.1,86.7 L594.1,85.0 L594.2,84.3 L594.3,83.1 L594.4,81.8 L594.5,80.6 L594.5,80.0 L594.6,80.0 L594.7,80.0 L594.8,80.0 L594.9,80.0 L595.0,81.4 L595.1,82.9 L595.2,84.4 L595.3,85.9 L595.4,88.4 L595.5,90.8 L595.6,93.2 L595.7,95.6 L595.8,98.0 L595.9,100.4 L596.0,102.8 L596.1,105.7 L596.2,110.4 L596.3,116.1 L596.4,121.6 L596.5,125.4 L596.6,125.5 L596.7,123.0 L596.8,120.0 L596.9,117.3 L597.0,115.9 L597.1,116.5 L597.2,119.2 L597.3,124.2 L597.4,130.9 L597.5,138.6 L597.6,146.4 L597.7,153.3 L597.8,158.5 L597.9,161.5 L598.0,157.7 L598.1,151.8 L598.2,144.6 L598.3,136.9 L598.4,129.7 L598.5,123.8 L598.6,120.0 L598.7,118.4 L598.8,119.0 L598.9,121.3 L599.0,124.5 L599.1,127.5 L599.2,129.6 L599.3,129.8 L599.4,126.8 L599.5,120.7 L599.6,114.3 L599.7,108.9 L599.8,105.4 L599.9,104.5 L599.9,104.1 L600.0,103.1 L600.1,101.8 L600.2,100.6 L600.2,100.0 L600.3,100.0 L600.4,100.0 L600.5,100.0 L600.6,100.0 L600.7,101.5 L600.8,102.9 L600.9,104.9 L601.0,107.6 L601.1,110.3 L601.2,110.8 L601.3,109.2 L601.4,106.3 L601.5,105.2 L601.6,107.0 L601.7,111.1 L601.8,117.2 L601.9,124.6 L602.0,132.5 L602.1,139.7 L602.2,145.5 L602.3,149.2 L602.4,150.5 L602.5,149.7 L602.5,148.6 L602.6,149.4 L602.7,150.7 L602.8,152.2 L602.9,156.2 L603.0,167.4 L603.1,179.2 L603.2,186.0 L603.3,201.7 L603.4,217.3 L603.5,233.0 L603.6,248.7 L603.7,264.3 L603.8,280.0 L603.9,280.5 L604.0,280.9 L604.1,281.4 L604.2,281.8 L604.3,282.3 L604.4,282.8 L604.5,283.0 L604.5,301.8 L604.5,283.0 L604.6,282.8 L604.7,282.3 L604.8,281.8 L604.9,281.4 L605.0,280.9 L605.1,280.5 L605.2,280.0 L605.3,264.3 L605.4,248.7 L605.5,233.0 L605.6,217.3 L605.7,201.7 L605.8,186.0 L605.9,179.2 L606.0,167.5 L606.1,156.9 L606.2,153.3 L606.3,152.0 L606.4,150.7 L606.5,149.8 L606.5,150.0 L606.6,149.1 L606.7,145.7 L606.8,140.0 L606.9,132.2 L607.0,123.2 L607.1,114.0 L607.2,106.6 L607.3,103.9 L607.4,103.7 L607.5,103.8 L607.6,100.2 L607.7,96.5 L607.8,92.9 L607.9,89.3 L608.0,87.5 L608.0,86.8 L608.1,85.6 L608.2,84.3 L608.3,83.1 L608.4,82.5 L608.4,82.5 L608.5,82.5 L608.6,82.5 L608.7,82.5 L608.8,83.9 L608.9,85.4 L609.0,86.9 L609.1,88.5 L609.2,91.0 L609.3,93.5 L609.4,96.0 L609.5,98.5 L609.6,101.0 L609.7,103.5 L609.8,106.8 L609.9,108.1 L610.0,107.2 L610.1,105.0 L610.2,103.2 L610.3,106.1 L610.4,111.4 L610.5,118.5 L610.6,126.7 L610.7,134.7 L610.8,141.5 L610.9,146.4 L611.0,148.7 L611.1,148.6 L611.2,146.6 L611.3,143.6 L611.4,140.5 L611.5,138.5 L611.6,138.5 L611.7,141.0 L611.8,145.9 L611.9,152.8 L612.0,156.2 L612.1,159.8 L612.2,162.3 L612.3,162.8 L612.4,160.9 L612.5,156.6 L612.6,150.2 L612.7,142.6 L612.8,134.8 L612.9,128.0 L613.0,123.1 L613.1,120.6 L613.2,120.6 L613.3,122.7 L613.4,126.0 L613.5,129.6 L613.6,132.3 L613.7,133.1 L613.8,131.5 L613.9,127.4 L614.0,120.3 L614.1,113.2 L614.2,107.9 L614.3,104.9 L614.4,104.0 L614.5,103.9 L614.5,104.0 L614.6,103.1 L614.7,101.8 L614.8,100.6 L614.9,100.0 L614.9,100.0 L615.0,100.0 L615.1,100.0 L615.2,100.0 L615.3,101.4 L615.4,102.9 L615.5,104.5 L615.6,105.3 L615.7,105.4 L615.8,103.9 L615.9,103.3 L616.0,108.4 L616.1,115.7 L616.2,124.5 L616.3,133.7 L616.4,142.1 L616.5,148.9 L616.6,153.3 L616.6,154.5 L616.7,156.8 L616.8,159.8 L616.9,161.2 L617.0,162.7 L617.1,169.1 L617.2,179.2 L617.3,186.0 L617.4,202.7 L617.5,219.3 L617.6,236.0 L617.7,252.7 L617.8,269.3 L617.9,286.0 L618.0,286.5 L618.1,286.9 L618.2,287.4 L618.3,287.8 L618.4,288.3 L618.5,288.8 L618.5,289.0 L618.6,293.7 L618.6,289.0 L618.7,288.8 L618.8,288.3 L618.9,287.8 L619.0,287.4 L619.1,286.9 L619.2,286.5 L619.3,286.0 L619.4,269.3 L619.5,252.7 L619.6,236.0 L619.7,219.3 L619.8,202.7 L619.9,186.0 L620.0,179.2 L620.1,167.3 L620.2,155.0 L620.3,150.0 L620.4,148.2 L620.5,147.1 L620.5,146.5 L620.6,146.4 L620.7,145.2 L620.8,141.7 L620.9,135.8 L621.0,127.6 L621.1,116.4 L621.2,107.4 L621.3,102.5 L621.4,97.2 L621.5,91.9 L621.6,86.6 L621.7,81.4 L621.8,76.1 L621.9,73.5 L621.9,72.8 L622.0,71.6 L622.1,70.3 L622.2,69.1 L622.2,68.5 L622.3,68.5 L622.4,68.5 L622.5,68.5 L622.6,68.5 L622.7,70.0 L622.8,71.4 L622.9,72.9 L623.0,74.5 L623.1,77.3 L623.2,80.2 L623.3,83.0 L623.4,85.9 L623.5,88.8 L623.6,91.6 L623.7,94.5 L623.8,97.4 L623.9,100.2 L624.0,103.1 L624.1,105.3 L624.2,105.3 L624.3,104.0 L624.4,103.1 L624.5,105.9 L624.6,112.3 L624.7,120.3 L624.8,128.8 L624.9,136.8 L625.0,143.3 L625.1,147.6 L625.2,149.5 L625.3,149.2 L625.4,147.2 L625.5,144.4 L625.6,142.0 L625.7,140.9 L625.8,141.8 L625.9,145.1 L626.0,150.7 L626.1,152.8 L626.2,155.8 L626.3,158.7 L626.4,160.5 L626.5,160.5 L626.6,158.1 L626.7,153.3 L626.8,146.6 L626.9,138.8 L627.0,130.7 L627.1,123.5 L627.2,118.0 L627.3,114.8 L627.4,113.9 L627.5,115.1 L627.6,117.7 L627.7,120.8 L627.8,122.7 L627.9,121.0 L628.0,116.8 L628.1,111.2 L628.2,105.9 L628.2,103.8 L628.3,103.2 L628.4,102.0 L628.5,100.7 L628.6,99.5 L628.6,98.8 L628.7,98.8 L628.8,98.8 L628.9,98.8 L629.0,98.8 L629.1,100.4 L629.2,101.9 L629.3,103.3 L629.4,105.7 L629.5,111.1 L629.6,115.5 L629.7,117.7 L629.8,117.0 L629.9,114.2 L630.0,111.9 L630.1,111.1 L630.2,112.3 L630.3,116.0 L630.4,121.7 L630.5,129.1 L630.6,137.1 L630.7,144.9 L630.8,151.4 L630.9,154.0 L630.9,158.2 L631.0,164.7 L631.1,169.1 L631.2,170.8 L631.3,172.7 L631.4,179.2 L631.5,186.0 L631.6,201.4 L631.7,216.8 L631.8,232.2 L631.9,247.7 L632.0,263.1 L632.1,278.5 L632.2,279.0 L632.3,279.4 L632.4,279.9 L632.5,280.3 L632.6,280.8 L632.7,281.3 L632.8,281.5 L632.8,282.5 L632.9,281.5 L632.9,281.3 L633.0,280.8 L633.1,280.3 L633.2,279.9 L633.3,279.4 L633.4,279.0 L633.5,278.5 L633.6,263.1 L633.7,247.7 L633.8,232.2 L633.9,216.8 L634.0,201.4 L634.1,186.0 L634.2,179.2 L634.3,171.9 L634.4,160.0 L634.5,148.4 L634.6,139.4 L634.7,132.7 L634.8,130.2 L634.8,129.4 L634.9,129.2 L635.0,130.2 L635.1,131.3 L635.2,131.7 L635.3,130.5 L635.4,125.4 L635.5,115.8 L635.6,106.9 L635.7,101.5 L635.8,97.2 L635.9,95.0 L635.9,94.4 L636.0,93.2 L636.1,91.9 L636.2,90.7 L636.2,90.0 L636.3,90.0 L636.4,90.0 L636.5,90.0 L636.6,90.0 L636.7,91.6 L636.8,93.0 L636.9,94.5 L637.0,96.0 L637.1,98.2 L637.2,100.4 L637.3,102.6 L637.4,104.3 L637.5,104.2 L637.6,103.6 L637.7,103.7 L637.8,105.6 L637.9,110.1 L638.0,117.4 L638.1,124.9 L638.2,131.6 L638.3,136.6 L638.4,139.5 L638.5,140.1 L638.6,138.8 L638.7,136.0 L638.8,132.8 L638.9,130.0 L639.0,128.4 L639.1,128.9 L639.2,131.5 L639.3,136.4 L639.4,142.9 L639.5,150.4 L639.6,157.9 L639.7,164.5 L639.8,169.4 L639.9,168.0 L640.0,164.5 L640.1,158.9 L640.2,152.1 L640.3,144.7 L640.4,137.9 L640.5,132.5 L640.6,129.0 L640.7,127.8 L640.8,128.7 L640.9,131.3 L641.0,134.8 L641.1,138.2 L641.2,140.6 L641.3,141.2 L641.4,139.7 L641.5,135.9 L641.6,130.2 L641.7,123.2 L641.8,115.9 L641.9,109.2 L642.0,104.3 L642.1,103.2 L642.2,104.0 L642.3,105.5 L642.4,106.1 L642.4,106.8 L642.5,107.4 L642.6,106.8 L642.7,105.1 L642.8,104.0 L642.8,104.0 L642.9,104.0 L643.0,104.0 L643.1,104.0 L643.2,105.6 L643.3,105.9 L643.4,105.1 L643.5,104.0 L643.6,103.3 L643.7,104.3 L643.8,107.9 L643.9,114.9 L644.0,122.4 L644.1,129.6 L644.2,135.5 L644.3,139.4 L644.4,141.0 L644.5,140.4 L644.6,138.0 L644.7,134.7 L644.8,131.4 L644.9,129.1 L645.0,128.5 L645.0,129.0 L645.1,132.5 L645.2,141.2 L645.3,151.8 L645.4,164.0 L645.5,173.9 L645.6,179.2 L645.7,186.0 L645.8,201.5 L645.9,217.0 L646.0,232.5 L646.1,248.0 L646.2,263.5 L646.3,279.0 L646.4,279.5 L646.5,279.9 L646.6,280.4 L646.7,280.8 L646.8,281.3 L646.9,281.8 L647.0,282.0 L647.0,291.5 L647.0,282.0 L647.1,281.8 L647.2,281.3 L647.3,280.8 L647.4,280.4 L647.5,279.9 L647.6,279.5 L647.7,279.0 L647.8,263.5 L647.9,248.0 L648.0,232.5 L648.1,217.0 L648.2,201.5 L648.3,186.0 L648.4,179.2 L648.5,175.4 L648.6,175.6 L648.7,171.9 L648.8,164.4 L648.9,154.6 L649.0,149.1 L649.0,145.0 L649.1,136.2 L649.2,127.7 L649.3,120.3 L649.4,114.9 L649.5,111.8 L649.6,111.1 L649.7,112.3 L649.8,114.6 L649.9,114.9 L650.0,112.0 L650.1,106.5 L650.2,102.0 L650.3,98.8 L650.4,95.6 L650.5,92.4 L650.6,89.2 L650.7,86.0 L650.8,84.5 L650.8,83.8 L650.9,82.6 L651.0,81.3 L651.1,80.1 L651.1,79.5 L651.2,79.5 L651.3,79.5 L651.4,79.5 L651.5,79.5 L651.6,81.0 L651.7,82.5 L651.8,83.9 L651.9,85.5 L652.0,88.6 L652.1,91.8 L652.2,95.0 L652.3,98.2 L652.4,101.4 L652.5,104.1 L652.6,106.4 L652.7,111.7 L652.8,119.8 L652.9,128.1 L653.0,133.4 L653.1,136.1 L653.2,136.5 L653.3,135.0 L653.4,132.6 L653.5,130.3 L653.6,129.1 L653.7,130.0 L653.8,133.4 L653.9,139.1 L654.0,146.8 L654.1,155.5 L654.2,164.3 L654.3,165.9 L654.4,165.6 L654.5,162.9 L654.6,157.8 L654.7,150.6 L654.8,142.2 L654.9,133.8 L655.0,126.3 L655.1,120.7 L655.2,117.5 L655.3,116.8 L655.4,118.2 L655.5,120.8 L655.6,123.6 L655.7,125.6 L655.8,122.9 L655.9,117.4 L656.0,111.0 L656.1,105.3 L656.2,102.0 L656.2,100.5 L656.3,99.9 L656.4,98.7 L656.5,97.4 L656.6,96.2 L656.6,95.5 L656.7,95.5 L656.8,95.5 L656.9,95.5 L657.0,95.5 L657.1,97.1 L657.2,98.6 L657.3,100.0 L657.4,101.5 L657.5,103.9 L657.6,106.6 L657.7,107.1 L657.8,105.9 L657.9,104.0 L658.0,103.1 L658.1,106.3 L658.2,112.4 L658.3,120.0 L658.4,128.0 L658.5,135.4 L658.6,141.2 L658.7,144.6 L658.8,145.5 L658.9,144.1 L659.0,141.1 L659.1,137.7 L659.1,136.2 L659.2,137.1 L659.3,140.4 L659.4,145.9 L659.5,155.4 L659.6,169.3 L659.7,179.2 L659.8,186.0 L659.9,201.5 L660.0,217.0 L660.1,232.5 L660.2,248.0 L660.3,263.5 L660.4,279.0 L660.5,279.5 L660.6,279.9 L660.7,280.4 L660.8,280.8 L660.9,281.3 L661.0,281.8 L661.0,282.0 L661.1,292.8 L661.1,282.0 L661.2,281.8 L661.3,281.3 L661.4,280.8 L661.5,280.4 L661.6,279.9 L661.7,279.5 L661.8,279.0 L661.9,263.5 L662.0,248.0 L662.1,232.5 L662.2,217.0 L662.3,201.5 L662.4,186.0 L662.5,179.2 L662.6,173.2 L662.7,172.0 L662.8,170.1 L662.9,165.1 L663.0,157.6 L663.0,152.9 L663.1,149.1 L663.2,140.1 L663.3,130.3 L663.4,120.8 L663.5,112.6 L663.6,106.6 L663.7,103.7 L663.8,105.6 L663.9,106.0 L664.0,103.1 L664.1,99.0 L664.2,94.9 L664.3,90.8 L664.4,86.7 L664.5,82.6 L664.6,78.5 L664.6,76.5 L664.7,75.8 L664.8,74.6 L664.9,73.3 L665.0,72.1 L665.0,71.5 L665.1,71.5 L665.2,71.5 L665.3,71.5 L665.4,71.5 L665.5,72.9 L665.6,74.4 L665.7,75.9 L665.8,77.4 L665.9,81.3 L666.0,85.2 L666.1,89.0 L666.2,92.9 L666.3,96.7 L666.4,100.6 L666.5,104.0 L666.6,104.4 L666.7,107.6 L666.8,114.6 L666.9,124.1 L667.0,132.8 L667.1,139.7 L667.2,144.3 L667.3,146.5 L667.4,146.5 L667.5,145.1 L667.6,143.3 L667.7,142.2 L667.8,142.6 L667.9,139.3 L668.0,138.5 L668.1,139.8 L668.2,142.7 L668.3,146.2 L668.4,149.1 L668.5,150.7 L668.6,150.1 L668.7,147.0 L668.8,141.7 L668.9,134.7 L669.0,126.9 L669.1,119.4 L669.2,113.2 L669.3,109.0 L669.4,107.2 L669.5,107.8 L669.6,110.4 L669.7,113.4 L669.8,114.3 L669.9,112.9 L670.0,109.4 L670.0,107.2 L670.1,105.9 L670.2,103.7 L670.3,102.4 L670.4,101.2 L670.5,100.5 L670.5,100.5 L670.6,100.5 L670.7,100.5 L670.8,100.5 L670.9,102.0 L671.0,103.5 L671.1,104.8 L671.2,107.2 L671.3,112.4 L671.4,118.7 L671.5,124.6 L671.6,128.3 L671.7,127.5 L671.8,125.1 L671.9,122.0 L672.0,119.2 L672.1,117.7 L672.2,118.1 L672.3,121.0 L672.4,126.0 L672.5,132.9 L672.6,140.8 L672.6,144.8 L672.7,150.8 L672.8,162.0 L672.9,171.4 L673.0,177.0 L673.1,176.8 L673.2,179.2 L673.3,186.0 L673.4,198.8 L673.5,211.5 L673.6,224.3 L673.7,237.1 L673.8,249.8 L673.9,262.6 L674.0,263.1 L674.1,263.5 L674.2,264.0 L674.3,264.4 L674.4,264.9 L674.5,265.4 L674.5,265.6 L674.6,269.6 L674.6,265.6 L674.7,265.4 L674.8,264.9 L674.9,264.4 L675.0,264.0 L675.1,263.5 L675.2,263.1 L675.3,262.6 L675.4,249.8 L675.5,237.1 L675.6,224.3 L675.7,211.5 L675.8,198.8 L675.9,186.0 L676.0,179.2 L676.1,176.0 L676.2,169.5 L676.3,157.8 L676.4,145.8 L676.5,134.9 L676.5,130.1 L676.6,127.7 L676.7,124.5 L676.8,123.6 L676.9,124.5 L677.0,126.5 L677.1,128.7 L677.2,130.2 L677.3,130.1 L677.4,126.5 L677.5,119.0 L677.6,111.5 L677.7,105.6 L677.8,102.0 L677.9,98.8 L678.0,95.6 L678.1,92.4 L678.1,90.9 L678.2,90.2 L678.3,89.0 L678.4,87.7 L678.5,86.5 L678.5,85.9 L678.6,85.8 L678.7,85.8 L678.8,85.8 L678.9,85.8 L679.0,87.3 L679.1,88.8 L679.2,90.3 L679.3,91.8 L679.4,93.3 L679.5,94.8 L679.6,96.2 L679.7,97.7 L679.8,99.1 L679.9,100.6 L680.0,102.0 L680.1,103.5 L680.2,105.7 L680.3,108.8 L680.4,111.9 L680.5,114.2 L680.6,114.9 L680.7,113.9 L680.8,111.3 L680.9,107.8 L681.0,105.1 L681.1,105.0 L681.2,107.2 L681.3,111.5 L681.4,117.4 L681.5,124.2 L681.6,130.9 L681.7,136.6 L681.8,140.6 L681.9,142.5 L682.0,142.1 L682.1,139.7 L682.2,133.2 L682.3,126.3 L682.4,119.9 L682.5,115.0 L682.6,112.0 L682.7,111.3 L682.8,112.8 L682.9,115.8 L683.0,119.7 L683.1,123.4 L683.2,126.1 L683.3,125.5 L683.4,122.6 L683.5,118.3 L683.6,113.5 L683.7,109.2 L683.8,107.5 L683.8,106.2 L683.9,104.6 L684.0,104.0 L684.1,103.4 L684.1,102.8 L684.2,102.8 L684.3,102.8 L684.4,102.8 L684.5,102.8 L684.6,104.4 L684.7,107.3 L684.8,110.7 L684.9,113.8 L685.0,116.7 L685.1,117.6 L685.2,116.0 L685.3,112.7 L685.4,110.1 L685.5,108.9 L685.6,109.9 L685.7,113.1 L685.8,118.4 L685.9,125.2 L686.0,132.7 L686.1,139.8 L686.2,145.7 L686.3,149.8 L686.4,151.6 L686.5,151.1 L686.5,150.2 L686.6,151.3 L686.7,152.7 L686.8,154.1 L686.9,157.5 L687.0,167.6 L687.1,179.2 L687.2,186.0 L687.3,197.6 L687.4,209.3 L687.5,220.9 L687.6,232.5 L687.7,244.2 L687.8,255.8 L687.9,256.3 L688.0,256.7 L688.1,257.2 L688.2,257.6 L688.3,258.1 L688.4,258.6 L688.5,258.8 L688.5,266.4 L688.5,258.8 L688.6,258.6 L688.7,258.1 L688.8,257.6 L688.9,257.2 L689.0,256.7 L689.1,256.3 L689.2,255.8 L689.3,244.2 L689.4,232.5 L689.5,220.9 L689.6,209.3 L689.7,197.6 L689.8,186.0 L689.9,179.2 L690.0,167.4 L690.1,154.8 L690.2,149.3 L690.3,147.0 L690.4,145.6 L690.5,144.9 L690.5,146.9 L690.6,150.0 L690.7,151.3 L690.8,150.4 L690.9,147.1 L691.0,142.0 L691.1,135.7 L691.2,129.1 L691.3,123.3 L691.4,119.0 L691.5,116.8 L691.6,117.0 L691.7,119.2 L691.8,122.8 L691.9,126.9 L692.0,130.5 L692.1,132.8 L692.2,133.2 L692.3,131.2 L692.4,127.2 L692.5,121.6 L692.6,115.2 L692.7,109.5 L692.8,105.8 L692.9,104.1 L693.0,104.2 L693.1,105.3 L693.2,106.7 L693.3,107.6 L693.4,107.4 L693.5,106.2 L693.6,104.1 L693.7,102.9 L693.8,101.7 L693.9,100.5 L694.0,99.8 L694.0,99.2 L694.1,98.0 L694.2,96.7 L694.3,95.5 L694.4,94.8 L694.4,94.8 L694.5,94.8 L694.6,94.8 L694.7,94.8 L694.8,96.3 L694.9,97.8 L695.0,99.3 L695.1,100.8 L695.2,101.3 L695.3,101.8 L695.4,102.3 L695.5,102.7 L695.6,103.2 L695.7,103.7 L695.8,104.0 L695.9,104.1 L696.0,104.4 L696.1,105.0 L696.2,106.1 L696.3,107.6 L696.4,109.1 L696.5,110.4 L696.6,111.2 L696.7,111.3 L696.8,110.6 L696.9,109.2 L697.0,107.5 L697.1,105.9 L697.2,104.9 L697.3,105.0 L697.4,106.2 L697.5,109.4 L697.6,114.2 L697.6,117.1 L697.7,118.4 L697.8,119.6 L697.9,119.1 L698.0,116.9 L698.0,115.5 L698.1,114.9 L698.2,113.1 L698.3,110.8 L698.4,108.5 L698.5,107.1 L698.6,105.8 L698.7,105.7 L698.8,107.7 L698.9,112.5 L699.0,118.4 L699.1,124.4 L699.2,129.9 L699.3,133.9 L699.4,136.2 L699.5,136.5 L699.6,135.2 L699.7,132.8 L699.8,130.2 L699.9,128.1 L700.0,127.2 L700.1,128.2 L700.2,131.0 L700.3,135.4 L700.4,138.1 L700.4,143.5 L700.5,154.5 L700.6,165.0 L700.7,173.3 L700.8,176.2 L700.9,179.2 L701.0,186.0 L701.1,196.0 L701.2,206.0 L701.3,216.0 L701.4,226.0 L701.5,236.0 L701.6,246.0 L701.7,246.5 L701.8,246.9 L701.9,247.4 L702.0,247.8 L702.1,248.3 L702.2,248.8 L702.2,249.0 L702.3,263.8 L702.4,249.0 L702.4,248.8 L702.5,248.3 L702.6,247.8 L702.7,247.4 L702.8,246.9 L702.9,246.5 L703.0,246.0 L703.1,236.0 L703.2,226.0 L703.3,216.0 L703.4,206.0 L703.5,196.0 L703.6,186.0 L703.7,179.2 L703.8,174.8 L703.9,167.9 L704.0,157.7 L704.1,147.5 L704.2,138.2 L704.2,134.0 L704.3,132.9 L704.4,132.0 L704.5,132.5 L704.6,134.1 L704.7,136.3 L704.8,138.2 L704.9,139.2 L705.0,138.8 L705.1,136.8 L705.2,133.4 L705.3,128.9 L705.4,123.9 L705.5,119.0 L705.6,115.0 L705.7,112.4 L705.8,111.2 L705.9,111.5 L706.0,113.0 L706.1,114.7 L706.2,115.5 L706.3,115.0 L706.4,113.2 L706.5,110.7 L706.6,107.9 L706.7,105.4 L706.8,103.6 L706.9,102.1 L707.0,100.6 L707.1,99.1 L707.2,97.6 L707.3,96.1 L707.4,94.6 L707.5,93.1 L707.6,91.6 L707.7,90.1 L707.8,88.6 L707.9,87.8 L707.9,87.2 L708.0,86.0 L708.1,84.7 L708.2,83.5 L708.2,82.8 L708.3,82.8 L708.4,82.8 L708.5,82.8 L708.6,82.8 L708.7,84.4 L708.8,85.8 L708.9,87.3 L709.0,88.8 L709.1,89.8 L709.2,90.7 L709.3,91.7 L709.4,92.6 L709.5,93.5 L709.6,94.5 L709.7,95.4 L709.8,96.3 L709.9,97.3 L710.0,98.2 L710.1,99.1 L710.2,100.1 L710.3,101.0 L710.4,101.9 L710.5,102.9 L710.6,103.8 L710.7,105.1 L710.8,106.4 L710.9,107.4 L711.0,108.5 L711.1,108.9 L711.1,108.9 L711.2,107.9 L711.3,106.4 L711.4,105.6 L711.5,105.1 L711.5,104.8 L711.6,104.9 L711.7,105.2 L711.8,105.5 L711.9,105.7 L712.0,108.1 L712.1,110.5 L712.2,112.5 L712.3,113.8 L712.4,114.4 L712.5,114.2 L712.6,113.4 L712.7,113.3 L712.8,114.1 L712.9,115.9 L713.0,118.8 L713.1,122.3 L713.2,126.3 L713.3,130.3 L713.4,133.7 L713.5,136.4 L713.6,138.1 L713.7,138.9 L713.8,138.8 L713.9,138.3 L714.0,137.7 L714.1,137.5 L714.1,137.7 L714.2,140.6 L714.3,147.1 L714.4,154.5 L714.5,163.1 L714.6,172.1 L714.7,179.2 L714.8,186.0 L714.9,194.7 L715.0,203.3 L715.1,212.0 L715.2,220.7 L715.3,229.3 L715.4,238.0 L715.5,238.5 L715.6,238.9 L715.7,239.4 L715.8,239.8 L715.9,240.3 L716.0,240.8 L716.0,241.0 L716.1,254.1 L716.1,241.0 L716.2,240.8 L716.3,240.3 L716.4,239.8 L716.5,239.4 L716.6,238.9 L716.7,238.5 L716.8,238.0 L716.9,229.3 L717.0,220.7 L717.1,212.0 L717.2,203.3 L717.3,194.7 L717.4,186.0 L717.5,179.2 L717.6,172.7 L717.7,167.7 L717.8,162.3 L717.9,156.1 L718.0,149.1 L718.0,145.4 L718.1,144.1 L718.2,141.2 L718.3,138.0 L718.4,134.9 L718.5,132.2 L718.6,129.9 L718.7,128.3 L718.8,127.4 L718.9,127.0 L719.0,126.8 L719.1,126.8 L719.2,126.5 L719.3,125.8 L719.4,124.6 L719.5,122.7 L719.6,120.3 L719.7,117.5 L719.8,114.5 L719.9,112.0 L720.0,110.1 L720.1,108.6 L720.2,107.5 L720.3,106.6 L720.4,105.5 L720.5,104.1 L720.6,102.6 L720.7,101.0 L720.8,99.5 L720.9,97.9 L721.0,96.4 L721.1,94.8 L721.2,93.3 L721.3,91.8 L721.4,90.2 L721.5,88.7 L721.6,87.1 L721.7,85.6 L721.8,84.0 L721.9,83.2 L721.9,82.6 L722.0,81.4 L722.1,80.1 L722.2,78.9 L722.2,78.2 L722.3,78.2 L722.4,78.2 L722.5,78.2 L722.6,78.2 L722.7,79.8 L722.8,81.2 L722.9,82.7 L723.0,84.2 L723.1,85.4 L723.2,86.6 L723.3,87.8 L723.4,89.0 L723.5,90.2 L723.6,91.4 L723.7,92.6 L723.8,93.8 L723.9,95.0 L724.0,96.1 L724.1,97.3 L724.2,98.5 L724.3,99.7 L724.4,100.9 L724.5,102.1 L724.6,103.3 L724.7,104.4 L724.8,105.5 L724.9,106.7 L725.0,108.1 L725.1,109.6 L725.2,111.1 L725.3,112.5 L725.4,114.2 L725.5,115.6 L725.5,116.3 L725.6,115.4 L725.7,113.6 L725.8,111.9 L725.9,110.5 L726.0,109.8 L726.0,109.7 L726.1,109.7 L726.2,109.8 L726.3,109.9 L726.4,111.6 L726.5,113.5 L726.6,115.4 L726.7,117.2 L726.8,118.9 L726.9,120.4 L727.0,121.8 L727.1,123.0 L727.2,124.2 L727.3,125.4 L727.4,126.6 L727.5,128.0 L727.6,129.6 L727.7,131.2 L727.8,133.0 L727.9,134.8 L728.0,136.7 L728.1,138.4 L728.2,140.2 L728.3,141.8 L728.4,142.5 L728.4,145.9 L728.5,152.5 L728.6,159.1 L728.7,165.7 L728.8,172.4 L728.9,179.2 L729.0,186.0 L729.1,193.3 L729.2,200.7 L729.3,208.0 L729.4,215.3 L729.5,222.7 L729.6,230.0 L729.7,230.5 L729.8,230.9 L729.9,231.4 L730.0,231.8 L730.1,232.3 L730.2,232.8 L730.2,233.0 L730.3,244.8" stroke-width="2.75"/>
<path d="M730.3,244.8 L730.9,239.7 L731.6,225.2 L732.2,203.4 L732.9,177.5 L733.5,150.9 L734.2,127.1 L734.8,108.6 L735.5,96.7 L736.1,91.3 L736.8,90.2 L737.5,91.1 L738.3,95.6 L739.0,105.5 L739.7,120.9 L740.5,140.7 L741.2,162.8 L741.9,184.4 L742.6,202.5 L743.4,214.6 L744.1,218.8 L744.9,214.8 L745.6,203.2 L746.4,185.9 L747.1,165.2 L747.9,144.0 L748.7,125.1 L749.4,110.3 L750.2,100.9 L750.9,96.6 L751.7,95.8 L752.5,96.5 L753.3,100.6 L754.1,109.6 L754.9,123.5 L755.7,141.5 L756.4,161.5 L757.2,181.1 L758.0,197.5 L758.8,208.5 L759.6,212.3 L760.2,208.2 L760.9,196.6 L761.5,179.2 L762.2,158.4 L762.8,137.2 L763.4,118.1 L764.1,103.3 L764.7,93.8 L765.4,89.5 L766.0,88.7 L766.7,89.5 L767.5,94.0 L768.2,103.8 L769.0,119.1 L769.7,138.8 L770.4,160.8 L771.2,182.3 L771.9,200.3 L772.7,212.3 L773.4,216.5 L774.0,212.1 L774.7,199.7 L775.4,180.9 L776.0,158.6 L776.6,135.8 L777.3,115.3 L777.9,99.4 L778.6,89.2 L779.2,84.5 L779.9,83.7 L780.6,84.6 L781.3,89.4 L782.0,99.9 L782.7,116.3 L783.4,137.4 L784.1,161.0 L784.8,184.0 L785.5,203.3 L786.2,216.2 L786.9,220.7 L787.6,216.5 L788.3,204.4 L789.0,186.2 L789.7,164.6 L790.3,142.4 L791.0,122.5 L791.7,107.1 L792.4,97.3 L793.1,92.7 L793.8,91.8 L794.5,92.7 L795.3,97.0 L796.0,106.5 L796.7,121.3 L797.5,140.4 L798.2,161.6 L798.9,182.4 L799.6,199.8 L800.4,211.4 L801.1,215.5 L801.8,211.4 L802.4,199.6 L803.1,182.0 L803.8,160.9 L804.5,139.4 L805.1,120.1 L805.8,105.1 L806.5,95.5 L807.1,91.1 L807.8,90.2 L808.5,91.1 L809.2,95.5 L809.8,104.9 L810.5,119.8 L811.2,138.9 L811.9,160.2 L812.6,181.0 L813.2,198.5 L813.9,210.1 L814.6,214.2 L815.3,210.2 L816.1,198.7 L816.8,181.4 L817.5,160.9 L818.2,139.8 L819.0,121.0 L819.7,106.4 L820.4,97.0 L821.2,92.7 L821.9,91.8 L822.6,92.6 L823.3,96.8 L823.9,105.9 L824.6,120.0 L825.3,138.2 L826.0,158.5 L826.7,178.4 L827.3,195.0 L828.0,206.1 L828.7,210.0 L829.4,206.1 L830.1,195.1 L830.8,178.6 L831.5,158.9 L832.2,138.7 L833.0,120.7 L833.7,106.7 L834.4,97.7 L835.1,93.5 L835.8,92.8 L836.5,93.5 L837.2,97.7 L837.9,106.8 L838.6,121.0 L839.3,139.2 L840.0,159.6 L840.7,179.5 L841.4,196.2 L842.1,207.3 L842.8,211.2 L843.5,207.5 L844.2,196.8 L844.9,180.9 L845.6,161.8 L846.3,142.3 L847.0,124.8 L847.7,111.3 L848.4,102.6 L849.1,98.6 L849.8,97.8 L850.4,98.6 L851.0,102.5 L851.7,111.0 L852.3,124.3 L852.9,141.3 L853.5,160.4 L854.1,179.0 L854.8,194.7 L855.4,205.1 L856.0,208.7 L856.8,205.1 L857.5,194.8 L858.3,179.2 L859.1,160.7 L859.9,141.8 L860.6,124.9 L861.4,111.7 L862.2,103.3 L862.9,99.4 L863.7,98.7 L864.3,99.4 L864.9,103.3 L865.5,111.7 L866.1,124.9 L866.7,141.8 L867.3,160.7 L867.9,179.2 L868.5,194.8 L869.1,205.1 L869.7,208.7 L870.4,205.1 L871.1,194.9 L871.9,179.5 L872.6,161.2 L873.3,142.4 L874.0,125.6 L874.7,112.6 L875.5,104.2 L876.2,100.4 L876.9,99.7 L877.6,100.3 L878.2,104.0 L878.9,112.0 L879.5,124.4 L880.2,140.4 L880.9,158.3 L881.5,175.8 L882.2,190.4 L882.8,200.2 L883.5,203.6 L884.1,200.2 L884.8,190.6 L885.4,176.2 L886.1,159.0 L886.7,141.4 L887.3,125.6 L888.0,113.4 L888.6,105.5 L889.3,101.9 L889.9,101.2 L890.6,102.0 L891.4,105.8 L892.1,114.0 L892.9,126.8 L893.6,143.4 L894.4,161.9 L895.1,179.9 L895.9,195.1 L896.6,205.2 L897.4,208.7 L898.0,205.2 L898.6,195.1 L899.2,179.9 L899.8,161.9 L900.4,143.4 L901.0,126.8 L901.6,114.0 L902.2,105.8 L902.8,102.0 L903.4,101.2 L904.1,101.9 L904.9,105.6 L905.6,113.6 L906.4,126.1 L907.1,142.2 L907.9,160.1 L908.6,177.7 L909.4,192.4 L910.1,202.2 L910.9,205.6 L911.5,202.1 L912.1,192.0 L912.7,177.0 L913.3,159.0 L914.0,140.6 L914.6,124.1 L915.2,111.3 L915.8,103.1 L916.4,99.4 L917.0,98.7 L917.8,99.4 L918.5,103.1 L919.3,111.2 L920.0,124.0 L920.8,140.3 L921.6,158.6 L922.3,176.5 L923.1,191.4 L923.8,201.4 L924.6,204.9 L925.2,201.3 L925.8,191.1 L926.4,175.8 L927.0,157.5 L927.7,138.8 L928.3,122.1 L928.9,109.0 L929.5,100.7 L930.1,96.9 L930.7,96.2 L931.4,96.9 L932.2,100.6 L932.9,108.6 L933.6,121.1 L934.4,137.3 L935.1,155.4 L935.8,173.0 L936.5,187.8 L937.3,197.6 L938.0,201.1 L938.6,197.9 L939.2,188.8 L939.9,175.0 L940.5,158.7 L941.1,141.9 L941.7,126.9 L942.3,115.3 L943.0,107.8 L943.6,104.4 L944.2,103.8 L944.9,104.4 L945.7,107.9 L946.4,115.4 L947.1,127.1 L947.9,142.2 L948.6,159.1 L949.3,175.6 L950.0,189.4 L950.8,198.6 L951.5,201.8 L952.1,198.6 L952.7,189.6 L953.4,176.1 L954.0,159.9 L954.6,143.4 L955.2,128.6 L955.8,117.1 L956.5,109.8 L957.1,106.4 L957.7,105.8 L958.5,106.3 L959.2,109.5 L960.0,116.2 L960.7,126.8 L961.5,140.4 L962.2,155.7 L963.0,170.5 L963.7,183.0 L964.5,191.3 L965.2,194.2 L965.8,191.4 L966.4,183.3 L967.0,171.1 L967.6,156.6 L968.2,141.7 L968.9,128.4 L969.5,118.1 L970.1,111.5 L970.7,108.4 L971.3,107.8 L972.1,108.4 L972.8,111.1 L973.6,117.0 L974.3,126.2 L975.1,138.0 L975.9,151.3 L976.6,164.2 L977.4,175.0 L978.1,182.3 L978.9,184.8 L979.6,182.3 L980.2,175.2 L980.9,164.5 L981.5,151.7 L982.2,138.6 L982.9,126.9 L983.5,117.9 L984.2,112.0 L984.8,109.4 L985.5,108.8 L986.2,109.3 L986.9,111.6 L987.6,116.6 L988.3,124.3 L989.0,134.4 L989.8,145.6 L990.5,156.5 L991.2,165.7 L991.9,171.8 L992.6,173.9 L993.2,172.2 L993.8,167.3 L994.5,160.0 L995.1,151.2 L995.7,142.3 L996.3,134.2 L996.9,128.0 L997.6,124.0 L998.2,122.2 L998.8,121.8 L999.5,122.1 L1000.2,123.7 L1001.0,127.0 L1001.7,132.1 L1002.4,138.8 L1003.1,146.2 L1003.8,153.4 L1004.6,159.5 L1005.3,163.6 L1006.0,165.0 L1006.6,163.9 L1007.3,160.8 L1008.0,156.1 L1008.6,150.6 L1009.2,144.9 L1009.9,139.7 L1010.5,135.8 L1011.2,133.2 L1011.9,132.1 L1012.5,131.8 L1013.2,132.0 L1013.8,132.9 L1014.5,134.9 L1015.2,137.9 L1015.9,141.9 L1016.5,146.3 L1017.2,150.6 L1017.9,154.2 L1018.5,156.6 L1019.2,157.4 L1019.9,156.7 L1020.6,154.6 L1021.3,151.5 L1022.0,147.8 L1022.8,144.1 L1023.5,140.7 L1024.2,138.1 L1024.9,136.4 L1025.6,135.6 L1026.3,135.4 L1026.9,135.6 L1027.6,136.2 L1028.2,137.6 L1028.9,139.8 L1029.5,142.6 L1030.1,145.7 L1030.8,148.7 L1031.4,151.3 L1032.1,153.0 L1032.7,153.6 L1033.4,152.9 L1034.1,150.8 L1034.7,147.8 L1035.4,144.1 L1036.1,140.4 L1036.8,137.0 L1037.5,134.4 L1038.1,132.8 L1038.8,132.0 L1039.5,131.8 L1040.1,132.0 L1040.8,132.8 L1041.4,134.6 L1042.1,137.3 L1042.7,140.9 L1043.3,144.9 L1044.0,148.7 L1044.6,152.0 L1045.3,154.1 L1045.9,154.9 L1046.6,154.4 L1047.3,152.8 L1047.9,150.5 L1048.6,147.7 L1049.3,144.9 L1050.0,142.4 L1050.7,140.4 L1051.3,139.1 L1052.0,138.6 L1052.7,138.4 L1053.3,138.6 L1054.0,139.2 L1054.6,140.5 L1055.3,142.5 L1055.9,145.2 L1056.5,148.1 L1057.2,151.0 L1057.8,153.4 L1058.5,155.0 L1059.1,155.6 L1059.8,155.2 L1060.4,154.0 L1061.0,152.2 L1061.7,150.1 L1062.3,148.0 L1063.0,146.0 L1063.6,144.5 L1064.3,143.6 L1064.9,143.1 L1065.6,143.1 L1066.2,143.1 L1066.9,143.6 L1067.5,144.5 L1068.2,146.0 L1068.8,147.9 L1069.4,150.0 L1070.1,152.1 L1070.7,153.8 L1071.4,155.0 L1072.0,155.4 L1072.7,155.0 L1073.4,153.7 L1074.1,151.8 L1074.8,149.6 L1075.5,147.3 L1076.2,145.2 L1076.9,143.6 L1077.6,142.6 L1078.3,142.1 L1079.0,142.1 L1079.6,142.1 L1080.2,142.4 L1080.9,143.1 L1081.5,144.1 L1082.1,145.4 L1082.7,146.9 L1083.3,148.3 L1084.0,149.5 L1084.6,150.3 L1085.2,150.6 L1085.9,150.1 L1086.6,148.9 L1087.3,146.9 L1088.0,144.6 L1088.7,142.2 L1089.3,140.1 L1090.0,138.5 L1090.7,137.4 L1091.4,136.9 L1092.1,136.8 L1092.6,136.9 L1093.1,137.3 L1093.6,138.2 L1094.1,139.6 L1094.7,141.4 L1095.2,143.4 L1095.7,145.4 L1096.2,147.0 L1096.7,148.1 L1097.2,148.5"/>
</g>
<g stroke="#262626" stroke-opacity="0.62" stroke-width="1.85" fill="none" stroke-linecap="square">
<line x1="71.15" y1="26.1" x2="1160.9" y2="26.1"/><line x1="71.15" y1="347.0" x2="1160.9" y2="347.0"/>
<line x1="71.15" y1="26.1" x2="71.15" y2="347.0"/><line x1="1160.9" y1="26.1" x2="1160.9" y2="347.0"/>
</g>
<g class="tk">
<text transform="translate(71.15,372.0) scale(1,1.10)" text-anchor="middle">0</text>
<text transform="translate(226.83,372.0) scale(1,1.10)" text-anchor="middle">0.05</text>
<text transform="translate(382.51,372.0) scale(1,1.10)" text-anchor="middle">0.1</text>
<text transform="translate(538.19,372.0) scale(1,1.10)" text-anchor="middle">0.15</text>
<text transform="translate(693.86,372.0) scale(1,1.10)" text-anchor="middle">0.2</text>
<text transform="translate(849.54,372.0) scale(1,1.10)" text-anchor="middle">0.25</text>
<text transform="translate(1005.22,372.0) scale(1,1.10)" text-anchor="middle">0.3</text>
<text transform="translate(1160.90,372.0) scale(1,1.10)" text-anchor="middle">0.35</text>
<text transform="translate(64,353.90) scale(1,1.10)" text-anchor="end">-0.5</text>
<text transform="translate(64,313.79) scale(1,1.10)" text-anchor="end">-0.4</text>
<text transform="translate(64,273.68) scale(1,1.10)" text-anchor="end">-0.3</text>
<text transform="translate(64,233.56) scale(1,1.10)" text-anchor="end">-0.2</text>
<text transform="translate(64,193.45) scale(1,1.10)" text-anchor="end">-0.1</text>
<text transform="translate(64,153.34) scale(1,1.10)" text-anchor="end">0</text>
<text transform="translate(64,113.22) scale(1,1.10)" text-anchor="end">0.1</text>
<text transform="translate(64,73.11) scale(1,1.10)" text-anchor="end">0.2</text>
<text transform="translate(64,33.00) scale(1,1.10)" text-anchor="end">0.3</text>
</g>
<text class="lb" x="616" y="397.6" text-anchor="middle">Time (s)</text>
<text class="lb" transform="translate(19.2,186) rotate(-90)" text-anchor="middle">Amplitude</text>
<text class="tt" transform="translate(616.3,18.3) scale(1,1.03)" text-anchor="middle">1CO-013-035-0003</text>
</svg>
</body></html>
